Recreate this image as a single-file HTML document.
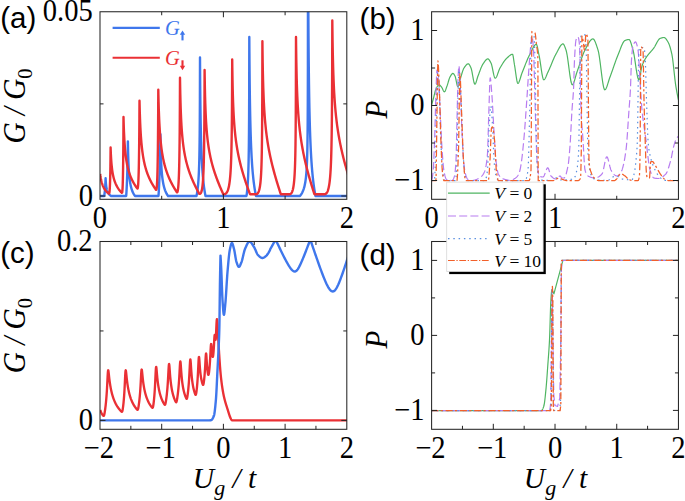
<!DOCTYPE html>
<html><head><meta charset="utf-8"><title>Figure</title>
<style>
html,body{margin:0;padding:0;background:#fff;}
body{width:685px;height:501px;overflow:hidden;font-family:"Liberation Serif",serif;}
svg{display:block}
text{fill:#000}
</style></head><body>
<svg width="685" height="501" viewBox="0 0 685 501">
<rect width="685" height="501" fill="#fff"/>
<defs>
<clipPath id="ca"><rect x="100.0" y="11.75" width="246.80" height="187.55"/></clipPath>
<clipPath id="cb"><rect x="431.6" y="11.75" width="246.85" height="187.55"/></clipPath>
<clipPath id="cc"><rect x="100.0" y="241.5" width="246.80" height="187.80"/></clipPath>
<clipPath id="cd"><rect x="431.6" y="241.5" width="246.85" height="187.80"/></clipPath>
</defs>
<path d="M100.20 195.95L104.20 195.95L104.20 195.95L104.30 195.35L104.40 194.71L104.50 194.01L104.60 193.25L104.70 192.42L104.80 191.51L104.90 190.50L105.00 189.38L105.10 188.12L105.20 186.69L105.30 185.06L105.40 183.16L105.50 180.91L105.60 178.20L105.70 180.27L105.80 181.90L105.90 183.24L106.00 184.35L106.10 185.30L106.20 186.12L106.30 186.84L106.40 187.48L106.50 188.05L106.60 188.56L106.70 189.03L106.80 189.46L106.90 189.85L107.00 190.20L107.10 190.54L107.20 190.85L107.30 191.13L107.40 191.40L107.50 191.66L107.60 191.89L107.70 192.12L107.80 192.33L107.90 192.53L108.00 192.72L108.10 192.90L108.20 193.07L108.30 193.24L108.40 193.39L108.50 193.54L108.60 193.69L108.70 193.82L108.80 193.96L108.90 194.08L109.00 194.20L109.10 194.32L109.20 194.43L109.30 194.54L109.40 194.65L109.50 194.75L109.60 194.85L109.70 194.94L109.80 195.03L109.90 195.12L110.00 195.21L110.10 195.29L110.20 195.38L110.30 195.45L110.40 195.53L110.50 195.61L110.60 195.68L110.70 195.75L110.80 195.82L110.90 195.88L111.00 195.95L111.00 195.95L126.20 195.95L126.20 195.95L126.30 194.45L126.40 192.85L126.50 191.15L126.60 189.33L126.70 187.37L126.80 185.27L126.90 183.00L127.00 180.54L127.10 177.86L127.20 174.93L127.30 171.69L127.40 168.10L127.50 164.09L127.60 159.57L127.70 154.42L127.80 148.47L127.90 141.50L127.90 141.50L128.00 147.33L128.10 151.97L128.20 155.79L128.30 159.00L128.40 161.75L128.50 164.14L128.60 166.24L128.70 168.11L128.80 169.78L128.90 171.28L129.00 172.66L129.10 173.91L129.20 175.06L129.30 176.12L129.40 177.10L129.50 178.02L129.60 178.87L129.70 179.67L129.80 180.42L129.90 181.13L130.00 181.79L130.10 182.42L130.20 183.02L130.30 183.58L130.40 184.12L130.50 184.63L130.60 185.12L130.70 185.59L130.80 186.03L130.90 186.46L131.00 186.87L131.10 187.27L131.20 187.64L131.30 188.01L131.40 188.36L131.50 188.69L131.60 189.02L131.70 189.33L131.80 189.64L131.90 189.93L132.00 190.21L132.10 190.49L132.20 190.76L132.30 191.02L132.40 191.27L132.50 191.51L132.60 191.75L132.70 191.98L132.80 192.20L132.90 192.42L133.00 192.63L133.10 192.83L133.20 193.04L133.30 193.23L133.40 193.42L133.50 193.61L133.60 193.79L133.70 193.97L133.80 194.14L133.90 194.31L134.00 194.48L134.10 194.64L134.20 194.80L134.30 194.95L134.40 195.10L134.50 195.25L134.60 195.40L134.70 195.54L134.80 195.68L134.90 195.82L135.00 195.95L158.50 195.95L158.50 195.95L158.60 194.43L158.70 192.83L158.80 191.13L158.90 189.34L159.00 187.42L159.10 185.38L159.20 183.20L159.30 180.87L159.40 178.35L159.50 175.64L159.60 172.69L159.70 169.48L159.80 165.97L159.90 162.10L160.00 157.80L160.10 153.00L160.20 147.59L160.30 141.42L160.40 134.30L160.40 134.30L160.50 140.51L160.60 145.53L160.70 149.69L160.80 153.22L160.90 156.26L161.00 158.91L161.10 161.25L161.20 163.34L161.30 165.22L161.40 166.92L161.50 168.47L161.60 169.88L161.70 171.19L161.80 172.39L161.90 173.51L162.00 174.56L162.10 175.53L162.20 176.44L162.30 177.30L162.40 178.11L162.50 178.87L162.60 179.59L162.70 180.27L162.80 180.92L162.90 181.54L163.00 182.13L163.10 182.69L163.20 183.23L163.30 183.74L163.40 184.23L163.50 184.70L163.60 185.16L163.70 185.59L163.80 186.01L163.90 186.42L164.00 186.81L164.10 187.18L164.20 187.55L164.30 187.90L164.40 188.24L164.50 188.56L164.60 188.88L164.70 189.19L164.80 189.49L164.90 189.78L165.00 190.06L165.10 190.34L165.20 190.60L165.30 190.86L165.40 191.11L165.50 191.36L165.60 191.60L165.70 191.83L165.80 192.06L165.90 192.28L166.00 192.50L166.10 192.71L166.20 192.91L166.30 193.11L166.40 193.31L166.50 193.50L166.60 193.69L166.70 193.87L166.80 194.05L166.90 194.23L167.00 194.40L167.10 194.57L167.20 194.74L167.30 194.90L167.40 195.06L167.50 195.21L167.60 195.37L167.70 195.52L167.80 195.66L167.90 195.81L168.00 195.95L196.50 195.95L196.50 195.95L196.60 195.48L196.70 194.98L196.80 194.47L196.90 193.93L197.00 193.36L197.10 192.77L197.20 192.14L197.30 191.49L197.40 190.80L197.50 190.07L197.60 189.29L197.70 188.47L197.80 187.60L197.90 186.67L198.00 185.68L198.10 184.61L198.20 183.46L198.30 182.22L198.40 180.87L198.50 179.41L198.60 177.80L198.70 176.03L198.80 174.06L198.90 171.86L199.00 169.37L199.10 166.54L199.20 163.26L199.30 159.42L199.40 154.81L199.50 149.17L199.60 142.03L199.70 132.58L199.80 119.21L199.90 98.19L200.00 57.50L200.10 73.38L200.20 85.97L200.30 96.27L200.40 104.90L200.50 112.26L200.60 118.64L200.70 124.23L200.80 129.20L200.90 133.64L201.00 137.64L201.10 141.27L201.20 144.59L201.30 147.64L201.40 150.45L201.50 153.04L201.60 155.46L201.70 157.71L201.80 159.82L201.90 161.80L202.00 163.66L202.10 165.41L202.20 167.07L202.30 168.64L202.40 170.13L202.50 171.54L202.60 172.89L202.70 174.17L202.80 175.40L202.90 176.57L203.00 177.69L203.10 178.77L203.20 179.80L203.30 180.80L203.40 181.75L203.50 182.67L203.60 183.55L203.70 184.41L203.80 185.23L203.90 186.03L204.00 186.80L204.10 187.54L204.20 188.27L204.30 188.96L204.40 189.64L204.50 190.30L204.60 190.94L204.70 191.56L204.80 192.16L204.90 192.75L205.00 193.32L205.10 193.87L205.20 194.41L205.30 194.94L205.40 195.45L205.50 195.95L205.50 195.95L246.50 195.95L246.50 195.95L246.60 195.27L246.70 194.55L246.80 193.78L246.90 192.98L247.00 192.12L247.10 191.21L247.20 190.24L247.30 189.19L247.40 188.08L247.50 186.87L247.60 185.57L247.70 184.15L247.80 182.61L247.90 180.91L248.00 179.04L248.10 176.96L248.20 174.62L248.30 171.98L248.40 168.95L248.50 165.44L248.60 161.29L248.70 156.31L248.80 150.14L248.90 142.25L249.00 131.63L249.10 116.26L249.20 91.01L249.30 37.00L249.30 37.00L249.40 52.29L249.50 64.86L249.60 75.44L249.70 84.49L249.80 92.36L249.90 99.28L250.00 105.42L250.10 110.93L250.20 115.90L250.30 120.42L250.40 124.56L250.50 128.35L250.60 131.85L250.70 135.10L250.80 138.12L250.90 140.93L251.00 143.57L251.10 146.04L251.20 148.37L251.30 150.57L251.40 152.65L251.50 154.61L251.60 156.48L251.70 158.25L251.80 159.94L251.90 161.56L252.00 163.10L252.10 164.57L252.20 165.98L252.30 167.33L252.40 168.63L252.50 169.88L252.60 171.08L252.70 172.23L252.80 173.35L252.90 174.42L253.00 175.46L253.10 176.46L253.20 177.43L253.30 178.37L253.40 179.28L253.50 180.16L253.60 181.01L253.70 181.84L253.80 182.64L253.90 183.42L254.00 184.18L254.10 184.92L254.20 185.64L254.30 186.34L254.40 187.02L254.50 187.68L254.60 188.33L254.70 188.96L254.80 189.57L254.90 190.17L255.00 190.76L255.10 191.33L255.20 191.89L255.30 192.44L255.40 192.97L255.50 193.50L255.60 194.01L255.70 194.51L255.80 195.00L255.90 195.48L256.00 195.95L300.00 195.95L300.00 195.95L300.10 195.83L300.20 195.71L300.30 195.58L300.40 195.45L300.50 195.32L300.60 195.19L300.70 195.05L300.80 194.91L300.90 194.77L301.00 194.63L301.10 194.48L301.20 194.33L301.30 194.17L301.40 194.01L301.50 193.85L301.60 193.69L301.70 193.52L301.80 193.34L301.90 193.17L302.00 192.98L302.10 192.80L302.20 192.61L302.30 192.41L302.40 192.21L302.50 192.00L302.60 191.79L302.70 191.57L302.80 191.35L302.90 191.11L303.00 190.88L303.10 190.63L303.20 190.38L303.30 190.12L303.40 189.85L303.50 189.57L303.60 189.28L303.70 188.98L303.80 188.67L303.90 188.36L304.00 188.02L304.10 187.68L304.20 187.32L304.30 186.95L304.40 186.57L304.50 186.16L304.60 185.74L304.70 185.30L304.80 184.84L304.90 184.36L305.00 183.86L305.10 183.33L305.20 182.77L305.30 182.18L305.40 181.56L305.50 180.90L305.60 180.20L305.70 179.46L305.80 178.67L305.90 177.82L306.00 176.91L306.10 175.93L306.20 174.88L306.30 173.73L306.40 172.48L306.50 171.10L306.60 169.59L306.70 167.91L306.80 166.03L306.90 163.90L307.00 161.47L307.10 158.66L307.20 155.36L307.30 151.40L307.40 146.54L307.50 140.36L307.60 132.15L307.70 120.46L307.80 101.86L307.90 64.94L308.00 -90.00L308.10 -49.23L308.20 -19.62L308.30 3.14L308.40 21.34L308.50 36.32L308.60 48.93L308.70 59.74L308.80 69.13L308.90 77.40L309.00 84.75L309.10 91.34L309.20 97.29L309.30 102.70L309.40 107.65L309.50 112.19L309.60 116.39L309.70 120.27L309.80 123.89L309.90 127.27L310.00 130.43L310.10 133.39L310.20 136.18L310.30 138.82L310.40 141.31L310.50 143.67L310.60 145.91L310.70 148.04L310.80 150.06L310.90 152.00L311.00 153.84L311.10 155.61L311.20 157.30L311.30 158.93L311.40 160.48L311.50 161.98L311.60 163.42L311.70 164.81L311.80 166.15L311.90 167.44L312.00 168.68L312.10 169.88L312.20 171.05L312.30 172.17L312.40 173.26L312.50 174.32L312.60 175.35L312.70 176.34L312.80 177.31L312.90 178.24L313.00 179.15L313.10 180.04L313.20 180.90L313.30 181.74L313.40 182.56L313.50 183.36L313.60 184.13L313.70 184.89L313.80 185.63L313.90 186.35L314.00 187.06L314.10 187.74L314.20 188.42L314.30 189.07L314.40 189.71L314.50 190.34L314.60 190.96L314.70 191.56L314.80 192.15L314.90 192.72L315.00 193.29L315.10 193.84L315.20 194.38L315.30 194.92L315.40 195.44L315.50 195.95L347.40 195.95" fill="none" stroke="#3f77ec" stroke-width="2.4" stroke-linejoin="round" stroke-linecap="butt" clip-path="url(#ca)"/>
<path d="M100.20 174.00L100.45 175.90L100.70 177.52L100.95 178.93L101.20 180.16L101.45 181.26L101.70 182.24L101.95 183.13L102.20 183.94L102.45 184.67L102.70 185.35L102.95 185.97L103.20 186.55L103.45 187.08L103.70 187.58L103.95 188.05L104.20 188.49L104.45 188.91L104.70 189.30L104.95 189.66L105.20 190.01L105.45 190.34L105.70 190.66L105.95 190.96L106.20 191.25L106.45 191.52L106.70 191.78L106.95 192.03L107.20 192.27L107.45 192.50L107.70 192.72L107.95 192.93L108.20 193.14L108.45 193.34L108.70 193.53L108.80 193.60L109.00 193.60L109.00 193.60L109.10 193.54L109.20 193.35L109.30 193.01L109.40 192.51L109.50 191.80L109.60 190.87L109.70 189.67L109.80 188.15L109.90 186.24L110.00 183.85L110.10 180.87L110.20 177.14L110.30 172.40L110.40 166.32L110.50 158.34L110.60 147.50L110.70 150.23L110.90 154.74L111.10 158.33L111.30 161.28L111.50 163.77L111.70 165.90L111.90 167.75L112.10 169.39L112.30 170.85L112.50 172.16L112.70 173.36L112.90 174.44L113.10 175.44L113.30 176.36L113.50 177.22L113.70 178.01L113.90 178.76L114.10 179.46L114.30 180.12L114.50 180.74L114.70 181.33L114.90 181.89L115.10 182.42L115.30 182.93L115.50 183.41L115.70 183.87L115.90 184.32L116.10 184.74L116.30 185.15L116.50 185.55L116.70 185.93L116.90 186.30L117.10 186.66L117.30 187.00L117.50 187.33L117.70 187.66L117.90 187.97L118.10 188.28L118.30 188.58L118.50 188.86L118.70 189.15L118.90 189.42L119.10 189.69L119.30 189.95L119.50 190.21L119.70 190.46L119.90 190.70L120.10 190.94L120.30 191.18L120.50 191.41L120.70 191.63L120.90 191.85L121.10 192.07L121.30 192.28L121.50 192.49L121.70 192.70L121.80 192.80L122.00 192.80L122.00 192.80L122.10 192.69L122.20 192.33L122.30 191.69L122.40 190.73L122.50 189.38L122.60 187.58L122.70 185.24L122.80 182.25L122.90 178.45L123.00 173.63L123.10 167.51L123.20 159.66L123.30 149.44L123.40 135.82L123.50 117.00L123.60 120.80L123.80 127.17L124.00 132.32L124.20 136.61L124.40 140.26L124.60 143.41L124.80 146.17L125.00 148.62L125.20 150.82L125.40 152.80L125.60 154.60L125.80 156.25L126.00 157.77L126.20 159.18L126.40 160.49L126.60 161.71L126.80 162.86L127.00 163.93L127.20 164.95L127.40 165.91L127.60 166.81L127.80 167.68L128.00 168.50L128.20 169.29L128.40 170.04L128.60 170.76L128.80 171.45L129.00 172.11L129.20 172.75L129.40 173.37L129.60 173.96L129.80 174.54L130.00 175.09L130.20 175.63L130.40 176.15L130.60 176.66L130.80 177.15L131.00 177.63L131.20 178.09L131.40 178.55L131.60 178.99L131.80 179.42L132.00 179.84L132.20 180.25L132.40 180.65L132.60 181.05L132.80 181.43L133.00 181.81L133.20 182.18L133.40 182.54L133.60 182.89L133.80 183.24L134.00 183.58L134.20 183.92L134.40 184.25L134.60 184.57L134.80 184.89L135.00 185.20L135.20 185.51L135.40 185.82L135.60 186.12L135.80 186.41L136.00 186.70L136.20 186.99L136.40 187.27L136.60 187.55L136.80 187.83L137.00 188.10L137.20 188.37L137.30 188.50L137.50 188.50L137.50 188.50L137.60 188.43L137.70 188.20L137.80 187.80L137.90 187.22L138.00 186.42L138.10 185.38L138.20 184.07L138.30 182.46L138.40 180.50L138.50 178.13L138.60 175.29L138.70 171.89L138.80 167.84L138.90 162.99L139.00 157.18L139.10 150.16L139.20 141.60L139.30 131.05L139.40 117.81L139.50 100.80L139.60 105.14L139.80 112.47L140.00 118.45L140.20 123.45L140.40 127.72L140.60 131.43L140.80 134.70L141.00 137.60L141.20 140.20L141.40 142.56L141.60 144.71L141.80 146.68L142.00 148.50L142.20 150.18L142.40 151.75L142.60 153.21L142.80 154.59L143.00 155.88L143.20 157.10L143.40 158.26L143.60 159.35L143.80 160.40L144.00 161.39L144.20 162.34L144.40 163.25L144.60 164.12L144.80 164.95L145.00 165.76L145.20 166.53L145.40 167.28L145.60 168.00L145.80 168.69L146.00 169.37L146.20 170.02L146.40 170.65L146.60 171.27L146.80 171.87L147.00 172.45L147.20 173.01L147.40 173.57L147.60 174.10L147.80 174.63L148.00 175.14L148.20 175.64L148.40 176.13L148.60 176.61L148.80 177.08L149.00 177.54L149.20 177.99L149.40 178.43L149.60 178.86L149.80 179.29L150.00 179.70L150.20 180.11L150.40 180.52L150.60 180.91L150.80 181.30L151.00 181.69L151.20 182.07L151.40 182.44L151.60 182.80L151.80 183.17L152.00 183.52L152.20 183.87L152.40 184.22L152.60 184.56L152.80 184.90L153.00 185.23L153.20 185.56L153.40 185.89L153.60 186.21L153.80 186.52L154.00 186.84L154.20 187.15L154.40 187.45L154.60 187.76L154.80 188.06L155.00 188.36L155.20 188.65L155.40 188.94L155.60 189.23L155.80 189.52L156.00 189.80L156.00 189.80L156.20 189.80L156.20 189.80L156.30 189.73L156.40 189.52L156.50 189.15L156.60 188.61L156.70 187.86L156.80 186.90L156.90 185.68L157.00 184.19L157.10 182.37L157.20 180.17L157.30 177.54L157.40 174.41L157.50 170.67L157.60 166.22L157.70 160.88L157.80 154.45L157.90 146.65L158.00 137.06L158.10 125.10L158.20 109.85L158.30 89.80L158.30 89.80L158.40 94.66L158.60 102.83L158.80 109.47L159.00 115.01L159.20 119.73L159.40 123.82L159.60 127.42L159.80 130.61L160.00 133.48L160.20 136.07L160.40 138.43L160.60 140.60L160.80 142.60L161.00 144.45L161.20 146.18L161.40 147.79L161.60 149.31L161.80 150.73L162.00 152.08L162.20 153.36L162.40 154.57L162.60 155.72L162.80 156.82L163.00 157.87L163.20 158.87L163.40 159.84L163.60 160.77L163.80 161.66L164.00 162.52L164.20 163.35L164.40 164.15L164.60 164.93L164.80 165.68L165.00 166.41L165.20 167.12L165.40 167.81L165.60 168.48L165.80 169.13L166.00 169.76L166.20 170.38L166.40 170.99L166.60 171.58L166.80 172.15L167.00 172.72L167.20 173.27L167.40 173.81L167.60 174.34L167.80 174.86L168.00 175.37L168.20 175.87L168.40 176.36L168.60 176.85L168.80 177.32L169.00 177.79L169.20 178.25L169.40 178.70L169.60 179.14L169.80 179.58L170.00 180.01L170.20 180.44L170.40 180.86L170.60 181.27L170.80 181.68L171.00 182.08L171.20 182.48L171.40 182.87L171.60 183.26L171.80 183.65L172.00 184.03L172.20 184.40L172.40 184.77L172.60 185.14L172.80 185.50L173.00 185.86L173.20 186.22L173.40 186.57L173.60 186.92L173.80 187.26L174.00 187.60L174.20 187.94L174.40 188.28L174.60 188.61L174.80 188.94L175.00 189.27L175.20 189.59L175.40 189.91L175.60 190.23L175.80 190.55L176.00 190.86L176.20 191.17L176.40 191.48L176.60 191.79L176.80 192.10L177.00 192.40L177.00 192.40L177.00 192.40L177.10 192.38L177.20 192.30L177.30 192.17L177.40 191.98L177.50 191.72L177.60 191.40L177.70 190.99L177.80 190.51L177.90 189.92L178.00 189.24L178.10 188.44L178.20 187.51L178.30 186.44L178.40 185.21L178.50 183.79L178.60 182.17L178.70 180.31L178.80 178.17L178.90 175.71L179.00 172.87L179.10 169.57L179.20 165.72L179.30 161.19L179.40 155.80L179.50 149.33L179.60 141.41L179.70 131.52L179.80 118.82L179.90 101.84L180.00 77.80L180.10 84.13L180.30 94.31L180.50 102.21L180.70 108.61L180.90 113.92L181.10 118.44L181.30 122.36L181.50 125.79L181.70 128.85L181.90 131.60L182.10 134.09L182.30 136.36L182.50 138.45L182.70 140.38L182.90 142.17L183.10 143.85L183.30 145.42L183.50 146.89L183.70 148.29L183.90 149.61L184.10 150.87L184.30 152.07L184.50 153.21L184.70 154.30L184.90 155.35L185.10 156.36L185.30 157.33L185.50 158.27L185.70 159.17L185.90 160.05L186.10 160.89L186.30 161.71L186.50 162.51L186.70 163.29L186.90 164.04L187.10 164.78L187.30 165.49L187.50 166.19L187.70 166.87L187.90 167.54L188.10 168.20L188.30 168.84L188.50 169.46L188.70 170.08L188.90 170.68L189.10 171.27L189.30 171.86L189.50 172.43L189.70 172.99L189.90 173.54L190.10 174.09L190.30 174.63L190.50 175.16L190.70 175.68L190.90 176.19L191.10 176.70L191.30 177.20L191.50 177.69L191.70 178.18L191.90 178.66L192.10 179.14L192.30 179.61L192.50 180.08L192.70 180.54L192.90 181.00L193.10 181.45L193.30 181.90L193.50 182.34L193.70 182.78L193.90 183.21L194.10 183.64L194.30 184.07L194.50 184.49L194.70 184.91L194.90 185.33L195.10 185.74L195.30 186.15L195.50 186.56L195.70 186.96L195.90 187.36L196.10 187.76L196.30 188.16L196.50 188.55L196.70 188.94L196.90 189.33L197.10 189.71L197.30 190.09L197.50 190.47L197.70 190.85L197.90 191.23L198.10 191.60L198.30 191.97L198.50 192.34L198.70 192.71L198.90 193.07L199.10 193.44L199.30 193.80L199.30 193.80L199.80 193.80L199.80 193.80L199.90 193.79L200.00 193.78L200.10 193.74L200.20 193.70L200.30 193.64L200.40 193.56L200.50 193.47L200.60 193.37L200.70 193.24L200.80 193.09L200.90 192.93L201.00 192.74L201.10 192.53L201.20 192.29L201.30 192.03L201.40 191.74L201.50 191.42L201.60 191.06L201.70 190.67L201.80 190.24L201.90 189.77L202.00 189.26L202.10 188.69L202.20 188.07L202.30 187.39L202.40 186.65L202.50 185.83L202.60 184.94L202.70 183.95L202.80 182.86L202.90 181.66L203.00 180.34L203.10 178.86L203.20 177.22L203.30 175.38L203.40 173.31L203.50 170.97L203.60 168.31L203.70 165.25L203.80 161.71L203.90 157.55L204.00 152.61L204.10 146.61L204.20 139.17L204.30 129.64L204.40 116.90L204.50 98.72L204.60 69.90L204.70 77.21L204.90 88.61L205.10 97.23L205.30 104.07L205.50 109.68L205.70 114.41L205.90 118.47L206.10 122.02L206.30 125.17L206.50 127.99L206.70 130.54L206.90 132.87L207.10 135.01L207.30 136.99L207.50 138.83L207.70 140.55L207.90 142.16L208.10 143.69L208.30 145.13L208.50 146.49L208.70 147.80L208.90 149.04L209.10 150.23L209.30 151.37L209.50 152.47L209.70 153.52L209.90 154.54L210.10 155.53L210.30 156.48L210.50 157.41L210.70 158.31L210.90 159.18L211.10 160.03L211.30 160.86L211.50 161.67L211.70 162.46L211.90 163.23L212.10 163.99L212.30 164.73L212.50 165.46L212.70 166.17L212.90 166.87L213.10 167.55L213.30 168.23L213.50 168.89L213.70 169.54L213.90 170.19L214.10 170.82L214.30 171.45L214.50 172.06L214.70 172.67L214.90 173.27L215.10 173.86L215.30 174.45L215.50 175.02L215.70 175.60L215.90 176.16L216.10 176.72L216.30 177.27L216.50 177.82L216.70 178.36L216.90 178.90L217.10 179.43L217.30 179.96L217.50 180.48L217.70 181.00L217.90 181.52L218.10 182.03L218.30 182.53L218.50 183.03L218.70 183.53L218.90 184.03L219.10 184.52L219.30 185.01L219.50 185.49L219.70 185.97L219.90 186.45L220.10 186.93L220.30 187.40L220.50 187.87L220.70 188.34L220.90 188.80L221.10 189.26L221.30 189.72L221.50 190.18L221.70 190.64L221.90 191.09L222.10 191.54L222.30 191.99L222.50 192.43L222.70 192.88L222.90 193.32L223.10 193.76L223.30 194.20L223.30 194.20L224.00 194.20L224.00 194.20L224.10 194.20L224.20 194.19L224.30 194.18L224.40 194.17L224.50 194.16L224.60 194.14L224.70 194.11L224.80 194.09L224.90 194.06L225.00 194.02L225.10 193.98L225.20 193.94L225.30 193.89L225.40 193.83L225.50 193.77L225.60 193.71L225.70 193.64L225.80 193.56L225.90 193.48L226.00 193.39L226.10 193.30L226.20 193.20L226.30 193.09L226.40 192.97L226.50 192.85L226.60 192.72L226.70 192.58L226.80 192.43L226.90 192.28L227.00 192.11L227.10 191.94L227.20 191.75L227.30 191.56L227.40 191.35L227.50 191.13L227.60 190.90L227.70 190.66L227.80 190.40L227.90 190.13L228.00 189.84L228.10 189.54L228.20 189.22L228.30 188.88L228.40 188.52L228.50 188.15L228.60 187.75L228.70 187.32L228.80 186.88L228.90 186.40L229.00 185.90L229.10 185.37L229.20 184.80L229.30 184.20L229.40 183.56L229.50 182.88L229.60 182.15L229.70 181.38L229.80 180.55L229.90 179.66L230.00 178.71L230.10 177.68L230.20 176.58L230.30 175.39L230.40 174.09L230.50 172.69L230.60 171.16L230.70 169.48L230.80 167.63L230.90 165.60L231.00 163.33L231.10 160.80L231.20 157.94L231.30 154.70L231.40 150.98L231.50 146.65L231.60 141.55L231.70 135.41L231.80 127.86L231.90 118.28L232.00 105.57L232.10 87.61L232.20 59.50L232.30 67.48L232.50 79.83L232.70 89.09L232.90 96.39L233.10 102.37L233.30 107.39L233.50 111.71L233.70 115.49L233.90 118.84L234.10 121.84L234.30 124.56L234.50 127.05L234.70 129.34L234.90 131.46L235.10 133.44L235.30 135.29L235.50 137.03L235.70 138.68L235.90 140.24L236.10 141.73L236.30 143.15L236.50 144.50L236.70 145.80L236.90 147.06L237.10 148.26L237.30 149.43L237.50 150.55L237.70 151.65L237.90 152.71L238.10 153.74L238.30 154.74L238.50 155.71L238.70 156.67L238.90 157.60L239.10 158.51L239.30 159.40L239.50 160.27L239.70 161.13L239.90 161.97L240.10 162.79L240.30 163.60L240.50 164.40L240.70 165.18L240.90 165.95L241.10 166.71L241.30 167.46L241.50 168.20L241.70 168.93L241.90 169.65L242.10 170.36L242.30 171.07L242.50 171.76L242.70 172.45L242.90 173.13L243.10 173.80L243.30 174.47L243.50 175.13L243.70 175.78L243.90 176.43L244.10 177.07L244.30 177.71L244.50 178.34L244.70 178.96L244.90 179.59L245.10 180.20L245.30 180.81L245.50 181.42L245.70 182.02L245.90 182.62L246.10 183.22L246.30 183.81L246.50 184.40L246.70 184.98L246.90 185.56L247.10 186.14L247.30 186.72L247.50 187.29L247.70 187.86L247.90 188.42L248.10 188.98L248.30 189.54L248.50 190.10L248.70 190.65L248.90 191.21L249.10 191.76L249.30 192.30L249.50 192.85L249.70 193.39L249.90 193.93L250.00 194.20L256.00 194.20L256.00 194.20L256.10 194.20L256.20 194.19L256.30 194.18L256.40 194.16L256.50 194.14L256.60 194.11L256.70 194.07L256.80 194.03L256.90 193.98L257.00 193.93L257.10 193.86L257.20 193.79L257.30 193.72L257.40 193.63L257.50 193.54L257.60 193.43L257.70 193.32L257.80 193.19L257.90 193.06L258.00 192.91L258.10 192.76L258.20 192.59L258.30 192.40L258.40 192.21L258.50 191.99L258.60 191.76L258.70 191.52L258.80 191.26L258.90 190.97L259.00 190.67L259.10 190.34L259.20 189.99L259.30 189.62L259.40 189.22L259.50 188.78L259.60 188.32L259.70 187.82L259.80 187.28L259.90 186.70L260.00 186.07L260.10 185.39L260.20 184.65L260.30 183.85L260.40 182.99L260.50 182.04L260.60 181.00L260.70 179.87L260.80 178.62L260.90 177.23L261.00 175.69L261.10 173.98L261.20 172.05L261.30 169.86L261.40 167.36L261.50 164.47L261.60 161.10L261.70 157.10L261.80 152.26L261.90 146.25L262.00 138.56L262.10 128.23L262.20 113.40L262.30 89.54L262.40 41.30L262.50 49.98L262.70 63.52L262.90 73.73L263.10 81.83L263.30 88.49L263.50 94.10L263.70 98.93L263.90 103.17L264.10 106.93L264.30 110.30L264.50 113.37L264.70 116.17L264.90 118.75L265.10 121.15L265.30 123.38L265.50 125.47L265.70 127.44L265.90 129.31L266.10 131.07L266.30 132.75L266.50 134.36L266.70 135.90L266.90 137.37L267.10 138.79L267.30 140.16L267.50 141.48L267.70 142.76L267.90 144.00L268.10 145.20L268.30 146.37L268.50 147.50L268.70 148.61L268.90 149.69L269.10 150.75L269.30 151.78L269.50 152.80L269.70 153.79L269.90 154.76L270.10 155.71L270.30 156.65L270.50 157.57L270.70 158.47L270.90 159.36L271.10 160.24L271.30 161.11L271.50 161.96L271.70 162.80L271.90 163.63L272.10 164.45L272.30 165.26L272.50 166.05L272.70 166.85L272.90 167.63L273.10 168.40L273.30 169.16L273.50 169.92L273.70 170.67L273.90 171.42L274.10 172.15L274.30 172.88L274.50 173.61L274.70 174.32L274.90 175.04L275.10 175.74L275.30 176.44L275.50 177.14L275.70 177.83L275.90 178.52L276.10 179.20L276.30 179.88L276.50 180.55L276.70 181.22L276.90 181.88L277.10 182.54L277.30 183.20L277.50 183.86L277.70 184.51L277.90 185.15L278.10 185.80L278.30 186.44L278.50 187.07L278.70 187.71L278.90 188.34L279.10 188.97L279.30 189.59L279.50 190.21L279.70 190.83L279.90 191.45L280.10 192.07L280.30 192.68L280.50 193.29L280.70 193.90L280.80 194.20L289.50 194.20L289.50 194.20L289.60 194.20L289.70 194.19L289.80 194.18L289.90 194.16L290.00 194.14L290.10 194.11L290.20 194.07L290.30 194.03L290.40 193.98L290.50 193.93L290.60 193.87L290.70 193.80L290.80 193.72L290.90 193.63L291.00 193.54L291.10 193.44L291.20 193.32L291.30 193.20L291.40 193.07L291.50 192.93L291.60 192.77L291.70 192.60L291.80 192.42L291.90 192.23L292.00 192.02L292.10 191.79L292.20 191.55L292.30 191.29L292.40 191.01L292.50 190.72L292.60 190.40L292.70 190.06L292.80 189.69L292.90 189.30L293.00 188.87L293.10 188.42L293.20 187.93L293.30 187.41L293.40 186.85L293.50 186.24L293.60 185.59L293.70 184.88L293.80 184.11L293.90 183.28L294.00 182.38L294.10 181.40L294.20 180.32L294.30 179.14L294.40 177.84L294.50 176.40L294.60 174.81L294.70 173.03L294.80 171.03L294.90 168.76L295.00 166.18L295.10 163.19L295.20 159.70L295.30 155.57L295.40 150.56L295.50 144.36L295.60 136.43L295.70 125.80L295.80 110.55L295.90 86.09L296.00 37.00L296.10 45.93L296.30 59.84L296.50 70.34L296.70 78.67L296.90 85.51L297.10 91.28L297.30 96.25L297.50 100.61L297.70 104.47L297.90 107.94L298.10 111.09L298.30 113.98L298.50 116.63L298.70 119.09L298.90 121.39L299.10 123.54L299.30 125.57L299.50 127.48L299.70 129.30L299.90 131.03L300.10 132.68L300.30 134.26L300.50 135.77L300.70 137.23L300.90 138.64L301.10 140.00L301.30 141.31L301.50 142.58L301.70 143.82L301.90 145.02L302.10 146.19L302.30 147.33L302.50 148.44L302.70 149.53L302.90 150.59L303.10 151.63L303.30 152.65L303.50 153.65L303.70 154.63L303.90 155.59L304.10 156.54L304.30 157.47L304.50 158.38L304.70 159.29L304.90 160.17L305.10 161.05L305.30 161.92L305.50 162.77L305.70 163.61L305.90 164.44L306.10 165.26L306.30 166.08L306.50 166.88L306.70 167.67L306.90 168.46L307.10 169.24L307.30 170.01L307.50 170.78L307.70 171.53L307.90 172.28L308.10 173.03L308.30 173.77L308.50 174.50L308.70 175.22L308.90 175.95L309.10 176.66L309.30 177.37L309.50 178.08L309.70 178.78L309.90 179.47L310.10 180.17L310.30 180.85L310.50 181.54L310.70 182.22L310.90 182.89L311.10 183.56L311.30 184.23L311.50 184.90L311.70 185.56L311.90 186.22L312.10 186.87L312.30 187.52L312.50 188.17L312.70 188.82L312.90 189.46L313.10 190.10L313.30 190.74L313.50 191.37L313.70 192.01L313.90 192.64L314.10 193.26L314.30 193.89L314.40 194.20L324.50 194.20L324.50 194.20L324.60 194.20L324.70 194.19L324.80 194.18L324.90 194.17L325.00 194.15L325.10 194.12L325.20 194.09L325.30 194.06L325.40 194.01L325.50 193.97L325.60 193.92L325.70 193.86L325.80 193.79L325.90 193.72L326.00 193.65L326.10 193.56L326.20 193.47L326.30 193.37L326.40 193.26L326.50 193.15L326.60 193.02L326.70 192.89L326.80 192.75L326.90 192.60L327.00 192.44L327.10 192.26L327.20 192.08L327.30 191.89L327.40 191.68L327.50 191.46L327.60 191.23L327.70 190.98L327.80 190.71L327.90 190.44L328.00 190.14L328.10 189.83L328.20 189.50L328.30 189.15L328.40 188.78L328.50 188.38L328.60 187.97L328.70 187.52L328.80 187.06L328.90 186.56L329.00 186.03L329.10 185.47L329.20 184.87L329.30 184.24L329.40 183.56L329.50 182.84L329.60 182.08L329.70 181.26L329.80 180.38L329.90 179.44L330.00 178.43L330.10 177.34L330.20 176.17L330.30 174.90L330.40 173.53L330.50 172.04L330.60 170.42L330.70 168.65L330.80 166.70L330.90 164.55L331.00 162.16L331.10 159.50L331.20 156.52L331.30 153.14L331.40 149.27L331.50 144.81L331.60 139.58L331.70 133.35L331.80 125.77L331.90 116.31L332.00 104.04L332.10 87.29L332.20 62.51L332.30 20.40L332.30 20.40L332.40 29.05L332.60 42.85L332.80 53.50L333.00 62.09L333.20 69.22L333.40 75.28L333.60 80.53L333.80 85.15L334.00 89.27L334.20 92.97L334.40 96.34L334.60 99.43L334.80 102.27L335.00 104.91L335.20 107.37L335.40 109.67L335.60 111.84L335.80 113.89L336.00 115.83L336.20 117.68L336.40 119.44L336.60 121.13L336.80 122.74L337.00 124.30L337.20 125.79L337.40 127.23L337.60 128.62L337.80 129.97L338.00 131.28L338.20 132.55L338.40 133.78L338.60 134.98L338.80 136.15L339.00 137.30L339.20 138.41L339.40 139.50L339.60 140.57L339.80 141.61L340.00 142.63L340.20 143.64L340.40 144.63L340.60 145.59L340.80 146.55L341.00 147.48L341.20 148.40L341.40 149.31L341.60 150.20L341.80 151.09L342.00 151.96L342.20 152.81L342.40 153.66L342.60 154.50L342.80 155.32L343.00 156.14L343.20 156.95L343.40 157.75L343.60 158.54L343.80 159.32L344.00 160.09L344.20 160.86L344.40 161.62L344.60 162.37L344.80 163.12L345.00 163.86L345.20 164.59L345.40 165.32L345.60 166.04L345.80 166.76L346.00 167.47L346.20 168.17L346.40 168.87L346.60 169.57L346.80 170.26L347.00 170.95L347.20 171.63L347.40 172.31L347.60 172.98L347.80 173.65L348.00 174.32L348.20 174.98L348.40 175.64L348.60 176.30L348.80 176.95L349.00 177.60L349.20 178.24L349.40 178.89L349.60 179.53L349.80 180.16L350.00 180.80L350.20 181.43L350.40 182.06L350.60 182.68L350.80 183.30L351.00 183.92L351.20 184.54L351.40 185.16L351.60 185.77L351.80 186.38L352.00 186.99L352.20 187.60L352.40 188.20L352.60 188.80L352.80 189.40" fill="none" stroke="#ea3035" stroke-width="2.4" stroke-linejoin="round" stroke-linecap="butt" clip-path="url(#ca)"/>
<path d="M100.20 410.04L100.30 410.22L100.40 410.42L100.50 410.65L100.60 410.90L100.70 411.15L100.80 411.41L100.90 411.67L101.00 411.93L101.10 412.17L101.20 412.41L101.30 412.64L101.40 412.86L101.50 413.07L101.60 413.28L101.70 413.47L101.80 413.66L101.90 413.83L102.00 414.01L102.10 414.17L102.20 414.33L102.30 414.49L102.40 414.63L102.50 414.78L102.60 414.92L102.70 415.05L102.80 415.18L102.90 415.31L103.00 415.43L103.10 415.54L103.20 415.64L103.30 415.74L103.40 415.82L103.50 415.87L103.60 415.89L103.70 415.87L103.80 415.81L103.90 415.68L104.00 415.49L104.10 415.22L104.20 414.89L104.30 414.50L104.40 414.04L104.50 413.54L104.60 412.99L104.70 412.40L104.80 411.78L104.90 411.13L105.00 410.45L105.10 409.75L105.20 409.02L105.30 408.26L105.40 407.47L105.50 406.65L105.60 405.80L105.70 404.91L105.80 403.98L105.90 403.01L106.00 402.00L106.10 400.95L106.20 399.84L106.30 398.67L106.40 397.45L106.50 396.15L106.60 394.79L106.70 393.35L106.80 391.82L106.90 390.20L107.00 388.49L107.10 386.68L107.20 384.78L107.30 382.81L107.40 380.80L107.50 378.79L107.60 376.84L107.70 375.03L107.80 373.43L107.90 372.12L108.00 371.15L108.10 370.54L108.20 370.30L108.30 370.40L108.40 370.78L108.50 371.40L108.60 372.17L108.70 373.04L108.80 373.97L108.90 374.92L109.00 375.86L109.10 376.78L109.20 377.68L109.30 378.54L109.40 379.37L109.50 380.17L109.60 380.95L109.70 381.69L109.80 382.41L109.90 383.10L110.00 383.77L110.10 384.42L110.20 385.05L110.30 385.65L110.40 386.24L110.50 386.81L110.60 387.37L110.70 387.91L110.80 388.43L110.90 388.94L111.00 389.43L111.10 389.91L111.20 390.38L111.30 390.84L111.40 391.28L111.50 391.71L111.60 392.14L111.70 392.55L111.80 392.95L111.90 393.34L112.00 393.73L112.10 394.10L112.20 394.47L112.30 394.83L112.40 395.18L112.50 395.52L112.60 395.86L112.70 396.19L112.80 396.51L112.90 396.82L113.00 397.13L113.10 397.44L113.20 397.73L113.30 398.03L113.40 398.31L113.50 398.59L113.60 398.87L113.70 399.14L113.80 399.41L113.90 399.67L114.00 399.92L114.10 400.17L114.20 400.42L114.30 400.66L114.40 400.90L114.50 401.14L114.60 401.37L114.70 401.60L114.80 401.82L114.90 402.04L115.00 402.26L115.10 402.47L115.20 402.68L115.30 402.89L115.40 403.09L115.50 403.29L115.60 403.49L115.70 403.69L115.80 403.88L115.90 404.07L116.00 404.25L116.10 404.44L116.20 404.62L116.30 404.80L116.40 404.97L116.50 405.15L116.60 405.32L116.70 405.49L116.80 405.66L116.90 405.82L117.00 405.98L117.10 406.14L117.20 406.30L117.30 406.46L117.40 406.61L117.50 406.77L117.60 406.92L117.70 407.07L117.80 407.21L117.90 407.36L118.00 407.50L118.10 407.64L118.20 407.78L118.30 407.92L118.40 408.06L118.50 408.20L118.60 408.33L118.70 408.46L118.80 408.59L118.90 408.72L119.00 408.85L119.10 408.98L119.20 409.10L119.30 409.23L119.40 409.35L119.50 409.47L119.60 409.59L119.70 409.71L119.80 409.82L119.90 409.94L120.00 410.06L120.10 410.17L120.20 410.28L120.30 410.39L120.40 410.50L120.50 410.61L120.60 410.72L120.70 410.83L120.80 410.93L120.90 411.04L121.00 411.14L121.10 411.25L121.20 411.35L121.30 411.44L121.40 411.54L121.50 411.63L121.60 411.70L121.70 411.76L121.80 411.80L121.90 411.80L122.00 411.76L122.10 411.66L122.20 411.49L122.30 411.24L122.40 410.92L122.50 410.51L122.60 410.02L122.70 409.46L122.80 408.84L122.90 408.16L123.00 407.42L123.10 406.64L123.20 405.82L123.30 404.94L123.40 404.03L123.50 403.07L123.60 402.05L123.70 400.98L123.80 399.86L123.90 398.66L124.00 397.40L124.10 396.05L124.20 394.62L124.30 393.09L124.40 391.46L124.50 389.72L124.60 387.86L124.70 385.89L124.80 383.83L124.90 381.71L125.00 379.57L125.10 377.48L125.20 375.52L125.30 373.78L125.40 372.34L125.50 371.27L125.60 370.58L125.70 370.30L125.80 370.39L125.90 370.79L126.00 371.43L126.10 372.25L126.20 373.18L126.30 374.17L126.40 375.18L126.50 376.18L126.60 377.15L126.70 378.09L126.80 378.99L126.90 379.86L127.00 380.69L127.10 381.49L127.20 382.26L127.30 383.00L127.40 383.71L127.50 384.39L127.60 385.05L127.70 385.69L127.80 386.31L127.90 386.90L128.00 387.48L128.10 388.04L128.20 388.58L128.30 389.10L128.40 389.61L128.50 390.10L128.60 390.58L128.70 391.05L128.80 391.50L128.90 391.94L129.00 392.37L129.10 392.79L129.20 393.19L129.30 393.59L129.40 393.98L129.50 394.35L129.60 394.72L129.70 395.08L129.80 395.43L129.90 395.78L130.00 396.11L130.10 396.44L130.20 396.76L130.30 397.07L130.40 397.38L130.50 397.68L130.60 397.98L130.70 398.27L130.80 398.55L130.90 398.82L131.00 399.10L131.10 399.36L131.20 399.62L131.30 399.88L131.40 400.13L131.50 400.38L131.60 400.62L131.70 400.86L131.80 401.09L131.90 401.32L132.00 401.55L132.10 401.77L132.20 401.99L132.30 402.20L132.40 402.41L132.50 402.62L132.60 402.83L132.70 403.03L132.80 403.23L132.90 403.42L133.00 403.61L133.10 403.80L133.20 403.99L133.30 404.17L133.40 404.35L133.50 404.53L133.60 404.70L133.70 404.87L133.80 405.04L133.90 405.21L134.00 405.38L134.10 405.54L134.20 405.70L134.30 405.86L134.40 406.02L134.50 406.17L134.60 406.32L134.70 406.47L134.80 406.62L134.90 406.77L135.00 406.91L135.10 407.05L135.20 407.19L135.30 407.33L135.40 407.47L135.50 407.61L135.60 407.74L135.70 407.87L135.80 408.00L135.90 408.13L136.00 408.26L136.10 408.39L136.20 408.51L136.30 408.63L136.40 408.76L136.50 408.88L136.60 409.00L136.70 409.11L136.80 409.23L136.90 409.34L137.00 409.45L137.10 409.55L137.20 409.64L137.30 409.72L137.40 409.78L137.50 409.80L137.60 409.78L137.70 409.72L137.80 409.59L137.90 409.39L138.00 409.13L138.10 408.79L138.20 408.39L138.30 407.92L138.40 407.40L138.50 406.83L138.60 406.22L138.70 405.57L138.80 404.89L138.90 404.18L139.00 403.43L139.10 402.65L139.20 401.84L139.30 400.99L139.40 400.10L139.50 399.17L139.60 398.20L139.70 397.17L139.80 396.09L139.90 394.95L140.00 393.75L140.10 392.48L140.20 391.12L140.30 389.69L140.40 388.16L140.50 386.54L140.60 384.81L140.70 383.00L140.80 381.12L140.90 379.19L141.00 377.26L141.10 375.40L141.20 373.68L141.30 372.18L141.40 370.97L141.50 370.10L141.60 369.61L141.70 369.50L141.80 369.73L141.90 370.24L142.00 370.98L142.10 371.88L142.20 372.87L142.30 373.90L142.40 374.94L142.50 375.96L142.60 376.95L142.70 377.91L142.80 378.82L142.90 379.70L143.00 380.54L143.10 381.34L143.20 382.11L143.30 382.85L143.40 383.57L143.50 384.25L143.60 384.91L143.70 385.54L143.80 386.15L143.90 386.74L144.00 387.31L144.10 387.87L144.20 388.40L144.30 388.92L144.40 389.42L144.50 389.90L144.60 390.37L144.70 390.83L144.80 391.28L144.90 391.71L145.00 392.13L145.10 392.54L145.20 392.93L145.30 393.32L145.40 393.70L145.50 394.07L145.60 394.43L145.70 394.78L145.80 395.12L145.90 395.45L146.00 395.78L146.10 396.10L146.20 396.41L146.30 396.71L146.40 397.01L146.50 397.30L146.60 397.59L146.70 397.87L146.80 398.14L146.90 398.41L147.00 398.67L147.10 398.93L147.20 399.18L147.30 399.43L147.40 399.67L147.50 399.91L147.60 400.14L147.70 400.37L147.80 400.60L147.90 400.82L148.00 401.04L148.10 401.25L148.20 401.46L148.30 401.67L148.40 401.87L148.50 402.07L148.60 402.27L148.70 402.46L148.80 402.65L148.90 402.84L149.00 403.02L149.10 403.20L149.20 403.38L149.30 403.55L149.40 403.73L149.50 403.90L149.60 404.06L149.70 404.23L149.80 404.39L149.90 404.55L150.00 404.71L150.10 404.87L150.20 405.02L150.30 405.17L150.40 405.32L150.50 405.47L150.60 405.61L150.70 405.76L150.80 405.90L150.90 406.04L151.00 406.18L151.10 406.31L151.20 406.45L151.30 406.58L151.40 406.71L151.50 406.84L151.60 406.97L151.70 407.09L151.80 407.22L151.90 407.34L152.00 407.45L152.10 407.56L152.20 407.66L152.30 407.73L152.40 407.79L152.50 407.80L152.60 407.77L152.70 407.67L152.80 407.50L152.90 407.25L153.00 406.91L153.10 406.49L153.20 405.98L153.30 405.40L153.40 404.74L153.50 404.02L153.60 403.24L153.70 402.41L153.80 401.53L153.90 400.61L154.00 399.63L154.10 398.60L154.20 397.51L154.30 396.37L154.40 395.15L154.50 393.86L154.60 392.49L154.70 391.03L154.80 389.46L154.90 387.79L155.00 386.00L155.10 384.10L155.20 382.08L155.30 379.97L155.40 377.80L155.50 375.63L155.60 373.52L155.70 371.57L155.80 369.86L155.90 368.49L156.00 367.53L156.10 367.00L156.20 366.90L156.30 367.20L156.40 367.83L156.50 368.72L156.60 369.77L156.70 370.93L156.80 372.13L156.90 373.33L157.00 374.51L157.10 375.64L157.20 376.72L157.30 377.75L157.40 378.72L157.50 379.65L157.60 380.54L157.70 381.38L157.80 382.19L157.90 382.96L158.00 383.70L158.10 384.41L158.20 385.08L158.30 385.74L158.40 386.36L158.50 386.97L158.60 387.55L158.70 388.11L158.80 388.65L158.90 389.18L159.00 389.68L159.10 390.17L159.20 390.65L159.30 391.11L159.40 391.55L159.50 391.98L159.60 392.40L159.70 392.81L159.80 393.21L159.90 393.59L160.00 393.97L160.10 394.34L160.20 394.69L160.30 395.04L160.40 395.38L160.50 395.70L160.60 396.03L160.70 396.34L160.80 396.65L160.90 396.95L161.00 397.24L161.10 397.52L161.20 397.80L161.30 398.08L161.40 398.35L161.50 398.61L161.60 398.86L161.70 399.11L161.80 399.36L161.90 399.60L162.00 399.84L162.10 400.07L162.20 400.30L162.30 400.52L162.40 400.74L162.50 400.95L162.60 401.16L162.70 401.37L162.80 401.57L162.90 401.77L163.00 401.97L163.10 402.16L163.20 402.35L163.30 402.54L163.40 402.72L163.50 402.90L163.60 403.08L163.70 403.25L163.80 403.43L163.90 403.59L164.00 403.76L164.10 403.92L164.20 404.08L164.30 404.23L164.40 404.38L164.50 404.51L164.60 404.63L164.70 404.72L164.80 404.78L164.90 404.80L165.00 404.76L165.10 404.66L165.20 404.49L165.30 404.25L165.40 403.93L165.50 403.54L165.60 403.09L165.70 402.58L165.80 402.03L165.90 401.43L166.00 400.80L166.10 400.13L166.20 399.44L166.30 398.72L166.40 397.96L166.50 397.18L166.60 396.36L166.70 395.51L166.80 394.62L166.90 393.70L167.00 392.72L167.10 391.71L167.20 390.64L167.30 389.52L167.40 388.33L167.50 387.08L167.60 385.76L167.70 384.37L167.80 382.89L167.90 381.31L168.00 379.65L168.10 377.89L168.20 376.05L168.30 374.15L168.40 372.23L168.50 370.34L168.60 368.55L168.70 366.96L168.80 365.64L168.90 364.68L169.00 364.12L169.10 364.00L169.20 364.30L169.30 364.97L169.40 365.95L169.50 367.14L169.60 368.48L169.70 369.88L169.80 371.29L169.90 372.68L170.00 374.01L170.10 375.28L170.20 376.48L170.30 377.61L170.40 378.68L170.50 379.69L170.60 380.65L170.70 381.55L170.80 382.41L170.90 383.23L171.00 384.01L171.10 384.75L171.20 385.46L171.30 386.14L171.40 386.79L171.50 387.42L171.60 388.02L171.70 388.60L171.80 389.15L171.90 389.69L172.00 390.20L172.10 390.70L172.20 391.18L172.30 391.65L172.40 392.10L172.50 392.53L172.60 392.96L172.70 393.37L172.80 393.76L172.90 394.15L173.00 394.52L173.10 394.89L173.20 395.24L173.30 395.59L173.40 395.92L173.50 396.25L173.60 396.57L173.70 396.88L173.80 397.18L173.90 397.47L174.00 397.76L174.10 398.04L174.20 398.32L174.30 398.59L174.40 398.85L174.50 399.10L174.60 399.36L174.70 399.60L174.80 399.84L174.90 400.08L175.00 400.31L175.10 400.53L175.20 400.75L175.30 400.97L175.40 401.18L175.50 401.38L175.60 401.57L175.70 401.75L175.80 401.91L175.90 402.05L176.00 402.15L176.10 402.20L176.20 402.20L176.30 402.13L176.40 401.98L176.50 401.76L176.60 401.47L176.70 401.10L176.80 400.66L176.90 400.17L177.00 399.63L177.10 399.05L177.20 398.44L177.30 397.79L177.40 397.12L177.50 396.42L177.60 395.69L177.70 394.93L177.80 394.14L177.90 393.32L178.00 392.46L178.10 391.57L178.20 390.63L178.30 389.66L178.40 388.64L178.50 387.56L178.60 386.44L178.70 385.25L178.80 384.00L178.90 382.68L179.00 381.28L179.10 379.80L179.20 378.23L179.30 376.57L179.40 374.82L179.50 373.00L179.60 371.11L179.70 369.22L179.80 367.36L179.90 365.62L180.00 364.09L180.10 362.84L180.20 361.96L180.30 361.51L180.40 361.50L180.50 361.92L180.60 362.71L180.70 363.80L180.80 365.11L180.90 366.54L181.00 368.03L181.10 369.53L181.20 370.98L181.30 372.37L181.40 373.68L181.50 374.92L181.60 376.08L181.70 377.17L181.80 378.20L181.90 379.17L182.00 380.09L182.10 380.96L182.20 381.78L182.30 382.56L182.40 383.31L182.50 384.02L182.60 384.70L182.70 385.35L182.80 385.97L182.90 386.56L183.00 387.14L183.10 387.69L183.20 388.21L183.30 388.72L183.40 389.21L183.50 389.69L183.60 390.15L183.70 390.59L183.80 391.02L183.90 391.43L184.00 391.83L184.10 392.22L184.20 392.60L184.30 392.96L184.40 393.32L184.50 393.66L184.60 394.00L184.70 394.32L184.80 394.64L184.90 394.95L185.00 395.25L185.10 395.55L185.20 395.83L185.30 396.11L185.40 396.38L185.50 396.65L185.60 396.91L185.70 397.16L185.80 397.41L185.90 397.65L186.00 397.88L186.10 398.10L186.20 398.30L186.30 398.48L186.40 398.63L186.50 398.74L186.60 398.80L186.70 398.79L186.80 398.71L186.90 398.54L187.00 398.28L187.10 397.93L187.20 397.50L187.30 396.99L187.40 396.41L187.50 395.77L187.60 395.09L187.70 394.35L187.80 393.58L187.90 392.76L188.00 391.91L188.10 391.02L188.20 390.08L188.30 389.10L188.40 388.06L188.50 386.98L188.60 385.83L188.70 384.62L188.80 383.34L188.90 381.98L189.00 380.54L189.10 379.00L189.20 377.37L189.30 375.63L189.40 373.79L189.50 371.85L189.60 369.85L189.70 367.82L189.80 365.83L189.90 363.96L190.00 362.30L190.10 360.95L190.20 360.00L190.30 359.51L190.40 359.50L190.50 359.95L190.60 360.81L190.70 361.99L190.80 363.39L190.90 364.92L191.00 366.51L191.10 368.09L191.20 369.61L191.30 371.06L191.40 372.43L191.50 373.70L191.60 374.90L191.70 376.01L191.80 377.05L191.90 378.03L192.00 378.95L192.10 379.82L192.20 380.64L192.30 381.42L192.40 382.15L192.50 382.85L192.60 383.52L192.70 384.16L192.80 384.77L192.90 385.35L193.00 385.90L193.10 386.44L193.20 386.95L193.30 387.45L193.40 387.92L193.50 388.38L193.60 388.82L193.70 389.24L193.80 389.66L193.90 390.05L194.00 390.44L194.10 390.81L194.20 391.17L194.30 391.52L194.40 391.86L194.50 392.19L194.60 392.51L194.70 392.82L194.80 393.12L194.90 393.40L195.00 393.68L195.10 393.95L195.20 394.19L195.30 394.41L195.40 394.59L195.50 394.73L195.60 394.80L195.70 394.80L195.80 394.71L195.90 394.52L196.00 394.23L196.10 393.83L196.20 393.34L196.30 392.76L196.40 392.09L196.50 391.36L196.60 390.56L196.70 389.70L196.80 388.79L196.90 387.82L197.00 386.80L197.10 385.72L197.20 384.57L197.30 383.36L197.40 382.07L197.50 380.70L197.60 379.24L197.70 377.68L197.80 376.01L197.90 374.22L198.00 372.31L198.10 370.30L198.20 368.21L198.30 366.08L198.40 363.97L198.50 361.97L198.60 360.18L198.70 358.70L198.80 357.63L198.90 357.02L199.00 356.90L199.10 357.26L199.20 358.02L199.30 359.11L199.40 360.43L199.50 361.87L199.60 363.36L199.70 364.83L199.80 366.24L199.90 367.57L200.00 368.82L200.10 369.97L200.20 371.03L200.30 372.02L200.40 372.93L200.50 373.79L200.60 374.58L200.70 375.33L200.80 376.03L200.90 376.69L201.00 377.32L201.10 377.91L201.20 378.47L201.30 379.01L201.40 379.52L201.50 380.00L201.60 380.46L201.70 380.91L201.80 381.33L201.90 381.74L202.00 382.13L202.10 382.50L202.20 382.86L202.30 383.21L202.40 383.53L202.50 383.84L202.60 384.13L202.70 384.38L202.80 384.60L202.90 384.77L203.00 384.87L203.10 384.90L203.20 384.84L203.30 384.67L203.40 384.41L203.50 384.03L203.60 383.56L203.70 383.00L203.80 382.35L203.90 381.63L204.00 380.85L204.10 380.00L204.20 379.09L204.30 378.13L204.40 377.10L204.50 376.01L204.60 374.85L204.70 373.61L204.80 372.28L204.90 370.86L205.00 369.34L205.10 367.71L205.20 365.98L205.30 364.15L205.40 362.26L205.50 360.36L205.60 358.52L205.70 356.82L205.80 355.38L205.90 354.30L206.00 353.66L206.10 353.51L206.20 353.87L206.30 354.69L206.40 355.88L206.50 357.35L206.60 358.97L206.70 360.65L206.80 362.30L206.90 363.87L207.00 365.32L207.10 366.64L207.20 367.83L207.30 368.90L207.40 369.87L207.50 370.74L207.60 371.53L207.70 372.25L207.80 372.89L207.90 373.46L208.00 373.95L208.10 374.35L208.20 374.65L208.30 374.83L208.40 374.90L208.50 374.83L208.60 374.62L208.70 374.28L208.80 373.81L208.90 373.23L209.00 372.54L209.10 371.77L209.20 370.91L209.30 369.97L209.40 368.96L209.50 367.88L209.60 366.72L209.70 365.48L209.80 364.15L209.90 362.72L210.00 361.18L210.10 359.53L210.20 357.76L210.30 355.90L210.40 353.95L210.50 351.97L210.60 350.02L210.70 348.20L210.80 346.60L210.90 345.32L211.00 344.45L211.10 344.04L211.20 344.09L211.30 344.57L211.40 345.41L211.50 346.51L211.60 347.75L211.70 349.05L211.80 350.33L211.90 351.54L212.00 352.64L212.10 353.62L212.20 354.48L212.30 355.21L212.40 355.82L212.50 356.30L212.60 356.64L212.70 356.83L212.80 356.87L212.90 356.73L213.00 356.42L213.10 355.94L213.20 355.28L213.30 354.46L213.40 353.49L213.50 352.36L213.60 351.08L213.70 349.66L213.80 348.09L213.90 346.40L214.00 344.61L214.10 342.75L214.20 340.90L214.30 339.15L214.40 337.58L214.50 336.31L214.60 335.42L214.70 334.96L214.80 334.94L214.90 335.31L215.00 336.00L215.10 336.88L215.20 337.82L215.30 338.69L215.40 339.38L215.50 339.76L215.60 339.76L215.70 339.32L215.80 338.40L215.90 337.02L216.00 335.23L216.10 333.10L216.20 330.77L216.30 328.36L216.40 326.03L216.50 323.90L216.60 322.09L216.70 320.68L216.80 319.72L216.90 319.24L217.00 319.22L217.10 319.66L217.20 320.49L217.30 321.66L217.40 323.11L217.50 324.77L217.60 326.58L217.70 328.47L217.80 330.40L217.90 332.34L218.00 334.26L218.10 336.14L218.20 337.98L218.30 339.78L218.40 341.54L218.50 343.26L218.60 344.95L218.70 346.60L218.80 348.23L218.90 349.84L219.00 351.43L219.10 353.00L219.20 354.55L219.30 356.09L219.40 357.61L219.50 359.11L219.60 360.59L219.70 362.05L219.80 363.49L219.90 364.89L220.00 366.26L220.10 367.59L220.20 368.87L220.30 370.12L220.40 371.32L220.50 372.47L220.60 373.57L220.70 374.63L220.80 375.65L220.90 376.62L221.00 377.56L221.10 378.46L221.20 379.34L221.30 380.18L221.40 381.01L221.50 381.81L221.60 382.59L221.70 383.35L221.80 384.10L221.90 384.83L222.00 385.54L222.10 386.24L222.20 386.92L222.30 387.58L222.40 388.23L222.50 388.86L222.60 389.48L222.70 390.09L222.80 390.68L222.90 391.26L223.00 391.82L223.10 392.38L223.20 392.92L223.30 393.44L223.40 393.96L223.50 394.47L223.60 394.96L223.70 395.44L223.80 395.92L223.90 396.38L224.00 396.84L224.10 397.28L224.20 397.71L224.30 398.14L224.40 398.56L224.50 398.97L224.60 399.37L224.70 399.77L224.80 400.15L224.90 400.53L225.00 400.91L225.10 401.28L225.20 401.64L225.30 401.99L225.40 402.35L225.50 402.69L225.60 403.03L225.70 403.37L225.80 403.70L225.90 404.03L226.00 404.36L226.10 404.68L226.20 405.00L226.30 405.32L226.40 405.64L226.50 405.95L226.60 406.26L226.70 406.58L226.80 406.89L226.90 407.20L227.00 407.51L227.10 407.82L227.20 408.13L227.30 408.44L227.40 408.75L227.50 409.07L227.60 409.38L227.70 409.70L227.80 410.02L227.90 410.34L228.00 410.66L228.10 410.98L228.20 411.31L228.30 411.63L228.40 411.96L228.50 412.28L228.60 412.61L228.70 412.93L228.80 413.25L228.90 413.57L229.00 413.89L229.10 414.20L229.20 414.51L229.30 414.82L229.40 415.12L229.50 415.41L229.60 415.70L229.70 415.98L229.80 416.25L229.90 416.52L230.00 416.78L230.10 417.03L230.20 417.27L230.30 417.51L230.40 417.74L230.50 417.97L230.60 418.19L230.70 418.40L230.80 418.61L230.90 418.82L231.00 419.02L231.10 419.20L231.20 419.38L231.30 419.55L231.40 419.70L231.50 419.84L231.60 419.96L231.70 420.07L231.80 420.15L231.90 420.22L232.00 420.28L232.10 420.32L232.20 420.35L232.30 420.37L232.40 420.38L232.50 420.39L232.60 420.39L232.70 420.40L232.80 420.40L232.90 420.40L233.00 420.40L233.10 420.40L233.20 420.40L233.30 420.40L233.40 420.40L233.50 420.40L233.60 420.40L233.70 420.40L233.80 420.40L233.90 420.40L234.00 420.40L234.10 420.40L234.20 420.40L234.30 420.40L234.40 420.40L234.50 420.40L234.60 420.40L234.70 420.40L234.80 420.40L234.90 420.40L235.00 420.40L235.10 420.40L235.20 420.40L235.30 420.40L235.40 420.40L235.50 420.40L235.60 420.40L235.70 420.40L235.80 420.40L235.90 420.40L236.00 420.40L236.10 420.40L236.20 420.40L236.30 420.40L236.40 420.40L236.50 420.40L236.60 420.40L236.70 420.40L236.80 420.40L236.90 420.40L237.00 420.40L237.10 420.40L237.20 420.40L237.30 420.40L237.40 420.40L237.50 420.40L237.60 420.40L237.70 420.40L237.80 420.40L237.90 420.40L238.00 420.40L238.10 420.40L238.20 420.40L238.30 420.40L238.40 420.40L238.50 420.40L238.60 420.40L238.70 420.40L238.80 420.40L238.90 420.40L239.00 420.40L239.10 420.40L239.20 420.40L239.30 420.40L239.40 420.40L239.50 420.40L239.60 420.40L239.70 420.40L239.80 420.40L239.90 420.40L240.00 420.40L240.10 420.40L240.20 420.40L240.30 420.40L240.40 420.40L240.50 420.40L240.60 420.40L240.70 420.40L240.80 420.40L240.90 420.40L241.00 420.40L241.10 420.40L241.20 420.40L241.30 420.40L241.40 420.40L241.50 420.40L241.60 420.40L241.70 420.40L241.80 420.40L241.90 420.40L242.00 420.40L242.10 420.40L242.20 420.40L242.30 420.40L242.40 420.40L242.50 420.40L242.60 420.40L242.70 420.40L242.80 420.40L242.90 420.40L243.00 420.40L243.10 420.40L243.20 420.40L243.30 420.40L243.40 420.40L243.50 420.40L243.60 420.40L243.70 420.40L243.80 420.40L243.90 420.40L244.00 420.40L244.10 420.40L244.20 420.40L244.30 420.40L244.40 420.40L244.50 420.40L244.60 420.40L244.70 420.40L244.80 420.40L244.90 420.40L245.00 420.40L245.10 420.40L245.20 420.40L245.30 420.40L245.40 420.40L245.50 420.40L245.60 420.40L245.70 420.40L245.80 420.40L245.90 420.40L246.00 420.40L246.10 420.40L246.20 420.40L246.30 420.40L246.40 420.40L246.50 420.40L246.60 420.40L246.70 420.40L246.80 420.40L246.90 420.40L247.00 420.40L247.10 420.40L247.20 420.40L247.30 420.40L247.40 420.40L247.50 420.40L247.60 420.40L247.70 420.40L247.80 420.40L247.90 420.40L248.00 420.40L248.10 420.40L248.20 420.40L248.30 420.40L248.40 420.40L248.50 420.40L248.60 420.40L248.70 420.40L248.80 420.40L248.90 420.40L249.00 420.40L249.10 420.40L249.20 420.40L249.30 420.40L249.40 420.40L249.50 420.40L249.60 420.40L249.70 420.40L249.80 420.40L249.90 420.40L250.00 420.40L250.10 420.40L250.20 420.40L250.30 420.40L250.40 420.40L250.50 420.40L250.60 420.40L250.70 420.40L250.80 420.40L250.90 420.40L251.00 420.40L251.10 420.40L251.20 420.40L251.30 420.40L251.40 420.40L251.50 420.40L251.60 420.40L251.70 420.40L251.80 420.40L251.90 420.40L252.00 420.40L252.10 420.40L252.20 420.40L252.30 420.40L252.40 420.40L252.50 420.40L252.60 420.40L252.70 420.40L252.80 420.40L252.90 420.40L253.00 420.40L253.10 420.40L253.20 420.40L253.30 420.40L253.40 420.40L253.50 420.40L253.60 420.40L253.70 420.40L253.80 420.40L253.90 420.40L254.00 420.40L254.10 420.40L254.20 420.40L254.30 420.40L254.40 420.40L254.50 420.40L254.60 420.40L254.70 420.40L254.80 420.40L254.90 420.40L255.00 420.40L255.10 420.40L255.20 420.40L255.30 420.40L255.40 420.40L255.50 420.40L255.60 420.40L255.70 420.40L255.80 420.40L255.90 420.40L256.00 420.40L256.10 420.40L256.20 420.40L256.30 420.40L256.40 420.40L256.50 420.40L256.60 420.40L256.70 420.40L256.80 420.40L256.90 420.40L257.00 420.40L257.10 420.40L257.20 420.40L257.30 420.40L257.40 420.40L257.50 420.40L257.60 420.40L257.70 420.40L257.80 420.40L257.90 420.40L258.00 420.40L258.10 420.40L258.20 420.40L258.30 420.40L258.40 420.40L258.50 420.40L258.60 420.40L258.70 420.40L258.80 420.40L258.90 420.40L259.00 420.40L259.10 420.40L259.20 420.40L259.30 420.40L259.40 420.40L259.50 420.40L259.60 420.40L259.70 420.40L259.80 420.40L259.90 420.40L260.00 420.40L260.10 420.40L260.20 420.40L260.30 420.40L260.40 420.40L260.50 420.40L260.60 420.40L260.70 420.40L260.80 420.40L260.90 420.40L261.00 420.40L261.10 420.40L261.20 420.40L261.30 420.40L261.40 420.40L261.50 420.40L261.60 420.40L261.70 420.40L261.80 420.40L261.90 420.40L262.00 420.40L262.10 420.40L262.20 420.40L262.30 420.40L262.40 420.40L262.50 420.40L262.60 420.40L262.70 420.40L262.80 420.40L262.90 420.40L263.00 420.40L263.10 420.40L263.20 420.40L263.30 420.40L263.40 420.40L263.50 420.40L263.60 420.40L263.70 420.40L263.80 420.40L263.90 420.40L264.00 420.40L264.10 420.40L264.20 420.40L264.30 420.40L264.40 420.40L264.50 420.40L264.60 420.40L264.70 420.40L264.80 420.40L264.90 420.40L265.00 420.40L265.10 420.40L265.20 420.40L265.30 420.40L265.40 420.40L265.50 420.40L265.60 420.40L265.70 420.40L265.80 420.40L265.90 420.40L266.00 420.40L266.10 420.40L266.20 420.40L266.30 420.40L266.40 420.40L266.50 420.40L266.60 420.40L266.70 420.40L266.80 420.40L266.90 420.40L267.00 420.40L267.10 420.40L267.20 420.40L267.30 420.40L267.40 420.40L267.50 420.40L267.60 420.40L267.70 420.40L267.80 420.40L267.90 420.40L268.00 420.40L268.10 420.40L268.20 420.40L268.30 420.40L268.40 420.40L268.50 420.40L268.60 420.40L268.70 420.40L268.80 420.40L268.90 420.40L269.00 420.40L269.10 420.40L269.20 420.40L269.30 420.40L269.40 420.40L269.50 420.40L269.60 420.40L269.70 420.40L269.80 420.40L269.90 420.40L270.00 420.40L270.10 420.40L270.20 420.40L270.30 420.40L270.40 420.40L270.50 420.40L270.60 420.40L270.70 420.40L270.80 420.40L270.90 420.40L271.00 420.40L271.10 420.40L271.20 420.40L271.30 420.40L271.40 420.40L271.50 420.40L271.60 420.40L271.70 420.40L271.80 420.40L271.90 420.40L272.00 420.40L272.10 420.40L272.20 420.40L272.30 420.40L272.40 420.40L272.50 420.40L272.60 420.40L272.70 420.40L272.80 420.40L272.90 420.40L273.00 420.40L273.10 420.40L273.20 420.40L273.30 420.40L273.40 420.40L273.50 420.40L273.60 420.40L273.70 420.40L273.80 420.40L273.90 420.40L274.00 420.40L274.10 420.40L274.20 420.40L274.30 420.40L274.40 420.40L274.50 420.40L274.60 420.40L274.70 420.40L274.80 420.40L274.90 420.40L275.00 420.40L275.10 420.40L275.20 420.40L275.30 420.40L275.40 420.40L275.50 420.40L275.60 420.40L275.70 420.40L275.80 420.40L275.90 420.40L276.00 420.40L276.10 420.40L276.20 420.40L276.30 420.40L276.40 420.40L276.50 420.40L276.60 420.40L276.70 420.40L276.80 420.40L276.90 420.40L277.00 420.40L277.10 420.40L277.20 420.40L277.30 420.40L277.40 420.40L277.50 420.40L277.60 420.40L277.70 420.40L277.80 420.40L277.90 420.40L278.00 420.40L278.10 420.40L278.20 420.40L278.30 420.40L278.40 420.40L278.50 420.40L278.60 420.40L278.70 420.40L278.80 420.40L278.90 420.40L279.00 420.40L279.10 420.40L279.20 420.40L279.30 420.40L279.40 420.40L279.50 420.40L279.60 420.40L279.70 420.40L279.80 420.40L279.90 420.40L280.00 420.40L280.10 420.40L280.20 420.40L280.30 420.40L280.40 420.40L280.50 420.40L280.60 420.40L280.70 420.40L280.80 420.40L280.90 420.40L281.00 420.40L281.10 420.40L281.20 420.40L281.30 420.40L281.40 420.40L281.50 420.40L281.60 420.40L281.70 420.40L281.80 420.40L281.90 420.40L282.00 420.40L282.10 420.40L282.20 420.40L282.30 420.40L282.40 420.40L282.50 420.40L282.60 420.40L282.70 420.40L282.80 420.40L282.90 420.40L283.00 420.40L283.10 420.40L283.20 420.40L283.30 420.40L283.40 420.40L283.50 420.40L283.60 420.40L283.70 420.40L283.80 420.40L283.90 420.40L284.00 420.40L284.10 420.40L284.20 420.40L284.30 420.40L284.40 420.40L284.50 420.40L284.60 420.40L284.70 420.40L284.80 420.40L284.90 420.40L285.00 420.40L285.10 420.40L285.20 420.40L285.30 420.40L285.40 420.40L285.50 420.40L285.60 420.40L285.70 420.40L285.80 420.40L285.90 420.40L286.00 420.40L286.10 420.40L286.20 420.40L286.30 420.40L286.40 420.40L286.50 420.40L286.60 420.40L286.70 420.40L286.80 420.40L286.90 420.40L287.00 420.40L287.10 420.40L287.20 420.40L287.30 420.40L287.40 420.40L287.50 420.40L287.60 420.40L287.70 420.40L287.80 420.40L287.90 420.40L288.00 420.40L288.10 420.40L288.20 420.40L288.30 420.40L288.40 420.40L288.50 420.40L288.60 420.40L288.70 420.40L288.80 420.40L288.90 420.40L289.00 420.40L289.10 420.40L289.20 420.40L289.30 420.40L289.40 420.40L289.50 420.40L289.60 420.40L289.70 420.40L289.80 420.40L289.90 420.40L290.00 420.40L290.10 420.40L290.20 420.40L290.30 420.40L290.40 420.40L290.50 420.40L290.60 420.40L290.70 420.40L290.80 420.40L290.90 420.40L291.00 420.40L291.10 420.40L291.20 420.40L291.30 420.40L291.40 420.40L291.50 420.40L291.60 420.40L291.70 420.40L291.80 420.40L291.90 420.40L292.00 420.40L292.10 420.40L292.20 420.40L292.30 420.40L292.40 420.40L292.50 420.40L292.60 420.40L292.70 420.40L292.80 420.40L292.90 420.40L293.00 420.40L293.10 420.40L293.20 420.40L293.30 420.40L293.40 420.40L293.50 420.40L293.60 420.40L293.70 420.40L293.80 420.40L293.90 420.40L294.00 420.40L294.10 420.40L294.20 420.40L294.30 420.40L294.40 420.40L294.50 420.40L294.60 420.40L294.70 420.40L294.80 420.40L294.90 420.40L295.00 420.40L295.10 420.40L295.20 420.40L295.30 420.40L295.40 420.40L295.50 420.40L295.60 420.40L295.70 420.40L295.80 420.40L295.90 420.40L296.00 420.40L296.10 420.40L296.20 420.40L296.30 420.40L296.40 420.40L296.50 420.40L296.60 420.40L296.70 420.40L296.80 420.40L296.90 420.40L297.00 420.40L297.10 420.40L297.20 420.40L297.30 420.40L297.40 420.40L297.50 420.40L297.60 420.40L297.70 420.40L297.80 420.40L297.90 420.40L298.00 420.40L298.10 420.40L298.20 420.40L298.30 420.40L298.40 420.40L298.50 420.40L298.60 420.40L298.70 420.40L298.80 420.40L298.90 420.40L299.00 420.40L299.10 420.40L299.20 420.40L299.30 420.40L299.40 420.40L299.50 420.40L299.60 420.40L299.70 420.40L299.80 420.40L299.90 420.40L300.00 420.40L300.10 420.40L300.20 420.40L300.30 420.40L300.40 420.40L300.50 420.40L300.60 420.40L300.70 420.40L300.80 420.40L300.90 420.40L301.00 420.40L301.10 420.40L301.20 420.40L301.30 420.40L301.40 420.40L301.50 420.40L301.60 420.40L301.70 420.40L301.80 420.40L301.90 420.40L302.00 420.40L302.10 420.40L302.20 420.40L302.30 420.40L302.40 420.40L302.50 420.40L302.60 420.40L302.70 420.40L302.80 420.40L302.90 420.40L303.00 420.40L303.10 420.40L303.20 420.40L303.30 420.40L303.40 420.40L303.50 420.40L303.60 420.40L303.70 420.40L303.80 420.40L303.90 420.40L304.00 420.40L304.10 420.40L304.20 420.40L304.30 420.40L304.40 420.40L304.50 420.40L304.60 420.40L304.70 420.40L304.80 420.40L304.90 420.40L305.00 420.40L305.10 420.40L305.20 420.40L305.30 420.40L305.40 420.40L305.50 420.40L305.60 420.40L305.70 420.40L305.80 420.40L305.90 420.40L306.00 420.40L306.10 420.40L306.20 420.40L306.30 420.40L306.40 420.40L306.50 420.40L306.60 420.40L306.70 420.40L306.80 420.40L306.90 420.40L307.00 420.40L307.10 420.40L307.20 420.40L307.30 420.40L307.40 420.40L307.50 420.40L307.60 420.40L307.70 420.40L307.80 420.40L307.90 420.40L308.00 420.40L308.10 420.40L308.20 420.40L308.30 420.40L308.40 420.40L308.50 420.40L308.60 420.40L308.70 420.40L308.80 420.40L308.90 420.40L309.00 420.40L309.10 420.40L309.20 420.40L309.30 420.40L309.40 420.40L309.50 420.40L309.60 420.40L309.70 420.40L309.80 420.40L309.90 420.40L310.00 420.40L310.10 420.40L310.20 420.40L310.30 420.40L310.40 420.40L310.50 420.40L310.60 420.40L310.70 420.40L310.80 420.40L310.90 420.40L311.00 420.40L311.10 420.40L311.20 420.40L311.30 420.40L311.40 420.40L311.50 420.40L311.60 420.40L311.70 420.40L311.80 420.40L311.90 420.40L312.00 420.40L312.10 420.40L312.20 420.40L312.30 420.40L312.40 420.40L312.50 420.40L312.60 420.40L312.70 420.40L312.80 420.40L312.90 420.40L313.00 420.40L313.10 420.40L313.20 420.40L313.30 420.40L313.40 420.40L313.50 420.40L313.60 420.40L313.70 420.40L313.80 420.40L313.90 420.40L314.00 420.40L314.10 420.40L314.20 420.40L314.30 420.40L314.40 420.40L314.50 420.40L314.60 420.40L314.70 420.40L314.80 420.40L314.90 420.40L315.00 420.40L315.10 420.40L315.20 420.40L315.30 420.40L315.40 420.40L315.50 420.40L315.60 420.40L315.70 420.40L315.80 420.40L315.90 420.40L316.00 420.40L316.10 420.40L316.20 420.40L316.30 420.40L316.40 420.40L316.50 420.40L316.60 420.40L316.70 420.40L316.80 420.40L316.90 420.40L317.00 420.40L317.10 420.40L317.20 420.40L317.30 420.40L317.40 420.40L317.50 420.40L317.60 420.40L317.70 420.40L317.80 420.40L317.90 420.40L318.00 420.40L318.10 420.40L318.20 420.40L318.30 420.40L318.40 420.40L318.50 420.40L318.60 420.40L318.70 420.40L318.80 420.40L318.90 420.40L319.00 420.40L319.10 420.40L319.20 420.40L319.30 420.40L319.40 420.40L319.50 420.40L319.60 420.40L319.70 420.40L319.80 420.40L319.90 420.40L320.00 420.40L320.10 420.40L320.20 420.40L320.30 420.40L320.40 420.40L320.50 420.40L320.60 420.40L320.70 420.40L320.80 420.40L320.90 420.40L321.00 420.40L321.10 420.40L321.20 420.40L321.30 420.40L321.40 420.40L321.50 420.40L321.60 420.40L321.70 420.40L321.80 420.40L321.90 420.40L322.00 420.40L322.10 420.40L322.20 420.40L322.30 420.40L322.40 420.40L322.50 420.40L322.60 420.40L322.70 420.40L322.80 420.40L322.90 420.40L323.00 420.40L323.10 420.40L323.20 420.40L323.30 420.40L323.40 420.40L323.50 420.40L323.60 420.40L323.70 420.40L323.80 420.40L323.90 420.40L324.00 420.40L324.10 420.40L324.20 420.40L324.30 420.40L324.40 420.40L324.50 420.40L324.60 420.40L324.70 420.40L324.80 420.40L324.90 420.40L325.00 420.40L325.10 420.40L325.20 420.40L325.30 420.40L325.40 420.40L325.50 420.40L325.60 420.40L325.70 420.40L325.80 420.40L325.90 420.40L326.00 420.40L326.10 420.40L326.20 420.40L326.30 420.40L326.40 420.40L326.50 420.40L326.60 420.40L326.70 420.40L326.80 420.40L326.90 420.40L327.00 420.40L327.10 420.40L327.20 420.40L327.30 420.40L327.40 420.40L327.50 420.40L327.60 420.40L327.70 420.40L327.80 420.40L327.90 420.40L328.00 420.40L328.10 420.40L328.20 420.40L328.30 420.40L328.40 420.40L328.50 420.40L328.60 420.40L328.70 420.40L328.80 420.40L328.90 420.40L329.00 420.40L329.10 420.40L329.20 420.40L329.30 420.40L329.40 420.40L329.50 420.40L329.60 420.40L329.70 420.40L329.80 420.40L329.90 420.40L330.00 420.40L330.10 420.40L330.20 420.40L330.30 420.40L330.40 420.40L330.50 420.40L330.60 420.40L330.70 420.40L330.80 420.40L330.90 420.40L331.00 420.40L331.10 420.40L331.20 420.40L331.30 420.40L331.40 420.40L331.50 420.40L331.60 420.40L331.70 420.40L331.80 420.40L331.90 420.40L332.00 420.40L332.10 420.40L332.20 420.40L332.30 420.40L332.40 420.40L332.50 420.40L332.60 420.40L332.70 420.40L332.80 420.40L332.90 420.40L333.00 420.40L333.10 420.40L333.20 420.40L333.30 420.40L333.40 420.40L333.50 420.40L333.60 420.40L333.70 420.40L333.80 420.40L333.90 420.40L334.00 420.40L334.10 420.40L334.20 420.40L334.30 420.40L334.40 420.40L334.50 420.40L334.60 420.40L334.70 420.40L334.80 420.40L334.90 420.40L335.00 420.40L335.10 420.40L335.20 420.40L335.30 420.40L335.40 420.40L335.50 420.40L335.60 420.40L335.70 420.40L335.80 420.40L335.90 420.40L336.00 420.40L336.10 420.40L336.20 420.40L336.30 420.40L336.40 420.40L336.50 420.40L336.60 420.40L336.70 420.40L336.80 420.40L336.90 420.40L337.00 420.40L337.10 420.40L337.20 420.40L337.30 420.40L337.40 420.40L337.50 420.40L337.60 420.40L337.70 420.40L337.80 420.40L337.90 420.40L338.00 420.40L338.10 420.40L338.20 420.40L338.30 420.40L338.40 420.40L338.50 420.40L338.60 420.40L338.70 420.40L338.80 420.40L338.90 420.40L339.00 420.40L339.10 420.40L339.20 420.40L339.30 420.40L339.40 420.40L339.50 420.40L339.60 420.40L339.70 420.40L339.80 420.40L339.90 420.40L340.00 420.40L340.10 420.40L340.20 420.40L340.30 420.40L340.40 420.40L340.50 420.40L340.60 420.40L340.70 420.40L340.80 420.40L340.90 420.40L341.00 420.40L341.10 420.40L341.20 420.40L341.30 420.40L341.40 420.40L341.50 420.40L341.60 420.40L341.70 420.40L341.80 420.40L341.90 420.40L342.00 420.40L342.10 420.40L342.20 420.40L342.30 420.40L342.40 420.40L342.50 420.40L342.60 420.40L342.70 420.40L342.80 420.40L342.90 420.40L343.00 420.40L343.10 420.40L343.20 420.40L343.30 420.40L343.40 420.40L343.50 420.40L343.60 420.40L343.70 420.40L343.80 420.40L343.90 420.40L344.00 420.40L344.10 420.40L344.20 420.40L344.30 420.40L344.40 420.40L344.50 420.40L344.60 420.40L344.70 420.40L344.80 420.40L344.90 420.40L345.00 420.40L345.10 420.40L345.20 420.40L345.30 420.40L345.40 420.40L345.50 420.40L345.60 420.40L345.70 420.40L345.80 420.40L345.90 420.40L346.00 420.40L346.10 420.40L346.20 420.40L346.30 420.40L346.40 420.40L346.50 420.40L346.60 420.40L346.70 420.40L346.80 420.40L346.90 420.40L347.00 420.40L347.10 420.40L347.20 420.40L347.30 420.40L347.40 420.40" fill="none" stroke="#ea3035" stroke-width="2.35" stroke-linejoin="round" stroke-linecap="butt" clip-path="url(#cc)"/>
<path d="M100.20 420.40L208.00 420.40L208.10 420.40L208.20 420.40L208.30 420.40L208.40 420.40L208.50 420.39L208.60 420.39L208.70 420.39L208.80 420.38L208.90 420.38L209.00 420.37L209.10 420.37L209.20 420.36L209.30 420.36L209.40 420.35L209.50 420.34L209.60 420.34L209.70 420.33L209.80 420.32L209.90 420.31L210.00 420.30L210.10 420.29L210.20 420.28L210.30 420.27L210.40 420.26L210.50 420.25L210.60 420.24L210.70 420.23L210.80 420.21L210.90 420.20L210.90 420.20L211.00 420.18L211.10 420.15L211.20 420.12L211.30 420.07L211.40 420.01L211.50 419.94L211.60 419.86L211.70 419.78L211.80 419.68L211.90 419.58L212.00 419.47L212.10 419.34L212.20 419.21L212.30 419.07L212.40 418.93L212.50 418.77L212.60 418.61L212.70 418.43L212.80 418.25L212.90 418.07L213.00 417.87L213.10 417.67L213.20 417.46L213.30 417.24L213.40 417.02L213.50 416.79L213.60 416.55L213.70 416.31L213.80 416.06L213.90 415.80L213.90 415.80L214.00 415.50L214.10 415.14L214.20 414.70L214.30 414.20L214.40 413.64L214.50 413.01L214.60 412.33L214.70 411.60L214.80 410.82L214.90 409.99L215.00 409.12L215.10 408.21L215.20 407.26L215.30 406.27L215.40 405.25L215.50 404.21L215.60 403.14L215.70 402.04L215.80 400.93L215.90 399.80L215.90 399.80L216.00 398.58L216.10 397.20L216.20 395.67L216.30 394.02L216.40 392.25L216.50 390.39L216.60 388.45L216.70 386.44L216.80 384.38L216.90 382.29L217.00 380.18L217.10 378.07L217.20 375.97L217.30 373.89L217.40 371.87L217.50 369.90L217.50 369.90L217.60 367.98L217.70 366.07L217.80 364.16L217.90 362.25L218.00 360.32L218.10 358.35L218.20 356.35L218.30 354.30L218.40 352.19L218.50 350.00L218.50 350.00L218.60 347.85L218.70 345.78L218.80 343.70L218.90 341.52L219.00 339.15L219.10 336.50L219.20 333.48L219.30 330.00L219.30 330.00L219.40 325.18L219.50 318.61L219.60 310.87L219.70 302.55L219.80 294.24L219.90 286.53L220.00 280.00L220.00 280.00L220.10 274.42L220.20 269.17L220.30 264.27L220.40 259.74L220.50 255.60L220.50 255.60L220.70 258.79L220.90 262.26L221.10 266.01L221.20 268.00L221.30 270.16L221.50 275.13L221.70 280.64L221.90 286.28L222.10 291.65L222.30 296.36L222.50 300.00L222.50 300.00L222.70 303.00L222.90 305.97L223.10 308.74L223.30 311.16L223.50 313.08L223.70 314.34L223.90 314.80L223.90 314.80L224.10 314.44L224.30 313.46L224.50 312.00L224.70 310.18L224.90 308.15L225.10 306.05L225.30 304.00L225.30 304.00L225.50 301.82L225.70 299.26L225.90 296.40L226.10 293.33L226.30 290.11L226.50 286.82L226.70 283.54L226.90 280.34L227.10 277.30L227.30 274.49L227.50 272.00L227.50 272.00L227.70 269.68L227.90 267.36L228.10 265.07L228.30 262.82L228.50 260.65L228.70 258.58L228.90 256.63L229.10 254.82L229.30 253.19L229.50 251.75L229.70 250.52L229.80 250.00L229.90 249.51L230.10 248.53L230.30 247.57L230.50 246.66L230.70 245.80L230.90 245.03L231.10 244.35L231.30 243.79L231.50 243.36L231.70 243.09L231.90 243.00L231.90 243.00L232.10 243.09L232.30 243.34L232.50 243.74L232.70 244.26L232.90 244.87L233.10 245.56L233.30 246.31L233.50 247.08L233.70 247.86L233.90 248.63L234.00 249.00L234.10 249.39L234.30 250.27L234.50 251.29L234.70 252.40L234.90 253.58L235.10 254.80L235.30 256.04L235.50 257.25L235.70 258.41L235.90 259.50L236.10 260.48L236.30 261.32L236.50 262.00L236.50 262.00L236.70 262.59L236.90 263.18L237.10 263.75L237.30 264.31L237.50 264.84L237.70 265.33L237.90 265.77L238.10 266.15L238.30 266.46L238.50 266.70L238.70 266.85L238.90 266.90L238.90 266.90L239.10 266.85L239.30 266.72L239.50 266.50L239.70 266.21L239.90 265.87L240.10 265.47L240.30 265.02L240.50 264.55L240.70 264.05L240.90 263.54L241.10 263.02L241.30 262.50L241.50 262.00L241.50 262.00L241.70 261.46L241.90 260.85L242.10 260.17L242.30 259.43L242.50 258.64L242.70 257.81L242.90 256.96L243.10 256.09L243.30 255.22L243.50 254.35L243.70 253.49L243.90 252.66L244.10 251.86L244.30 251.11L244.50 250.42L244.70 249.79L244.90 249.24L245.00 249.00L245.10 248.77L245.30 248.30L245.50 247.83L245.70 247.36L245.90 246.90L246.10 246.43L246.30 245.98L246.50 245.54L246.70 245.10L246.90 244.69L247.10 244.29L247.30 243.90L247.50 243.54L247.70 243.20L247.90 242.89L248.10 242.61L248.30 242.35L248.50 242.13L248.70 241.95L248.90 241.80L249.10 241.69L249.30 241.62L249.50 241.60L249.50 241.60L249.70 241.62L249.90 241.67L250.10 241.76L250.30 241.88L250.50 242.02L250.70 242.19L250.90 242.39L251.10 242.61L251.30 242.85L251.50 243.11L251.70 243.38L251.90 243.67L252.10 243.97L252.30 244.28L252.50 244.60L252.70 244.92L252.90 245.24L253.10 245.57L253.30 245.90L253.50 246.22L253.70 246.54L253.90 246.85L254.00 247.00L254.10 247.16L254.30 247.49L254.50 247.86L254.70 248.26L254.90 248.69L255.10 249.13L255.30 249.59L255.50 250.05L255.70 250.53L255.90 251.00L256.10 251.48L256.30 251.94L256.50 252.40L256.70 252.84L256.90 253.26L257.10 253.65L257.30 254.01L257.50 254.35L257.70 254.64L257.90 254.89L258.00 255.00L258.10 255.10L258.30 255.31L258.50 255.51L258.70 255.71L258.90 255.91L259.10 256.10L259.30 256.29L259.50 256.48L259.70 256.65L259.90 256.82L260.10 256.99L260.30 257.14L260.50 257.28L260.70 257.42L260.90 257.54L261.10 257.65L261.30 257.74L261.50 257.82L261.70 257.89L261.90 257.94L262.10 257.98L262.30 258.00L262.40 258.00L262.50 258.00L262.70 257.98L262.90 257.94L263.10 257.89L263.30 257.82L263.50 257.74L263.70 257.65L263.90 257.54L264.10 257.42L264.30 257.30L264.50 257.16L264.70 257.02L264.90 256.87L265.10 256.72L265.30 256.56L265.50 256.40L265.70 256.24L265.90 256.08L266.00 256.00L266.10 255.92L266.30 255.74L266.50 255.54L266.70 255.33L266.90 255.10L267.10 254.86L267.30 254.60L267.50 254.33L267.70 254.05L267.90 253.75L268.10 253.44L268.30 253.12L268.50 252.79L268.70 252.44L268.90 252.09L269.10 251.73L269.30 251.36L269.50 250.98L269.70 250.59L269.90 250.20L270.00 250.00L270.10 249.80L270.18 249.24L270.52 248.67L270.86 248.08L271.20 247.49L271.54 246.90L271.88 246.30L272.22 245.70L272.55 245.09L272.89 244.48L273.23 243.87L273.57 243.25L273.91 242.63L274.25 242.01L274.58 241.38L274.92 240.76L275.26 240.13L275.60 239.50L275.60 239.50L276.09 240.56L276.59 241.61L277.08 242.66L277.58 243.71L278.07 244.75L278.57 245.79L279.06 246.83L279.56 247.86L280.05 248.89L280.55 249.92L281.04 250.94L281.54 251.95L282.03 252.96L282.53 253.96L283.02 254.96L283.52 255.95L284.01 256.92L284.51 257.89L285.00 258.85L285.50 259.80L285.99 260.73L286.49 261.64L286.98 262.54L287.48 263.42L287.97 264.28L288.47 265.12L288.96 265.92L289.46 266.69L289.95 267.43L290.45 268.12L290.94 268.77L291.44 269.37L291.93 269.90L292.43 270.37L292.92 270.77L293.42 271.08L293.91 271.31L294.41 271.45L294.90 271.50L295.29 271.45L295.69 271.31L296.08 271.08L296.48 270.77L296.87 270.37L297.27 269.90L297.66 269.37L298.06 268.77L298.45 268.12L298.85 267.43L299.24 266.69L299.64 265.92L300.03 265.12L300.43 264.28L300.82 263.42L301.22 262.54L301.61 261.64L302.01 260.73L302.40 259.80L302.80 258.85L303.19 257.89L303.59 256.92L303.98 255.95L304.38 254.96L304.77 253.96L305.17 252.96L305.56 251.95L305.96 250.94L306.35 249.92L306.75 248.89L307.14 247.86L307.54 246.83L307.93 245.79L308.33 244.75L308.72 243.71L309.12 242.66L309.51 241.61L309.91 240.56L310.30 239.50L310.30 239.50L310.88 241.21L311.45 242.93L312.03 244.63L312.61 246.33L313.18 248.03L313.76 249.72L314.34 251.41L314.92 253.09L315.49 254.76L316.07 256.43L316.65 258.09L317.22 259.73L317.80 261.37L318.38 263.00L318.95 264.62L319.53 266.22L320.11 267.81L320.68 269.39L321.26 270.94L321.84 272.48L322.42 273.99L322.99 275.48L323.57 276.95L324.15 278.38L324.72 279.77L325.30 281.12L325.88 282.43L326.45 283.69L327.03 284.89L327.61 286.01L328.18 287.07L328.76 288.03L329.34 288.90L329.92 289.67L330.49 290.31L331.07 290.82L331.65 291.20L332.22 291.42L332.80 291.50L333.33 291.42L333.86 291.20L334.39 290.82L334.92 290.31L335.45 289.67L335.98 288.90L336.52 288.03L337.05 287.07L337.58 286.01L338.11 284.89L338.64 283.69L339.17 282.43L339.70 281.12L340.23 279.77L340.76 278.38L341.29 276.95L341.82 275.48L342.35 273.99L342.88 272.48L343.42 270.94L343.95 269.39L344.48 267.81L345.01 266.22L345.54 264.62L346.07 263.00L346.60 261.37L347.13 259.73L347.66 258.09L348.19 256.43L348.72 254.76L349.25 253.09L349.78 251.41L350.32 249.72L350.85 248.03L351.38 246.33L351.91 244.63L352.44 242.93L352.97 241.21L353.50 239.50" fill="none" stroke="#3f77ec" stroke-width="2.4" stroke-linejoin="round" stroke-linecap="butt" clip-path="url(#cc)"/>
<path d="M431.30 105.70L431.60 104.72L431.90 103.74L432.20 102.74L432.50 101.72L432.80 100.69L433.00 100.00L433.10 99.64L433.40 98.51L433.70 97.30L434.00 96.05L434.30 94.78L434.60 93.54L434.90 92.36L435.20 91.26L435.50 90.28L435.80 89.45L436.00 89.00L436.10 88.80L436.40 88.19L436.70 87.59L437.00 87.01L437.30 86.47L437.60 85.98L437.90 85.56L438.20 85.22L438.50 84.97L438.80 84.83L439.00 84.80L439.10 84.81L439.40 84.89L439.70 85.06L440.00 85.30L440.30 85.60L440.60 85.93L440.90 86.29L441.20 86.65L441.50 87.00L441.50 87.00L441.80 87.42L442.10 87.96L442.40 88.59L442.70 89.26L443.00 89.92L443.30 90.55L443.60 91.09L443.90 91.50L444.20 91.75L444.40 91.80L444.50 91.78L444.80 91.56L445.10 91.12L445.40 90.49L445.70 89.73L446.00 88.88L446.30 87.99L446.60 87.10L446.90 86.26L447.00 86.00L447.20 85.46L447.50 84.57L447.80 83.60L448.10 82.58L448.40 81.54L448.70 80.52L449.00 79.55L449.30 78.64L449.60 77.85L449.90 77.18L450.00 77.00L450.20 76.65L450.50 76.12L450.80 75.59L451.10 75.10L451.40 74.64L451.70 74.23L452.00 73.89L452.30 73.63L452.60 73.46L452.90 73.40L452.90 73.40L453.20 73.48L453.50 73.69L453.80 74.02L454.10 74.44L454.40 74.93L454.70 75.46L455.00 76.00L455.00 76.00L455.30 76.76L455.60 77.88L455.90 79.25L456.20 80.76L456.50 82.31L456.80 83.79L457.10 85.08L457.40 86.08L457.70 86.68L457.90 86.80L458.00 86.77L458.30 86.35L458.60 85.52L458.90 84.42L459.20 83.17L459.50 81.88L459.80 80.69L460.00 80.00L460.10 79.68L460.40 78.70L460.70 77.69L461.00 76.64L461.30 75.59L461.60 74.54L461.90 73.51L462.20 72.52L462.50 71.57L462.80 70.68L463.10 69.86L463.40 69.13L463.70 68.51L464.00 68.00L464.00 68.00L464.30 67.56L464.60 67.12L464.90 66.69L465.20 66.28L465.50 65.88L465.80 65.51L466.10 65.16L466.40 64.84L466.70 64.56L467.00 64.31L467.30 64.11L467.60 63.96L467.90 63.85L468.20 63.80L468.30 63.80L468.50 63.84L468.80 64.01L469.10 64.32L469.40 64.74L469.70 65.25L470.00 65.83L470.30 66.45L470.60 67.11L470.90 67.78L471.00 68.00L471.20 68.52L471.50 69.57L471.80 70.88L472.10 72.39L472.40 74.03L472.70 75.74L473.00 77.46L473.30 79.11L473.60 80.64L473.90 81.97L474.20 83.05L474.50 83.80L474.80 84.17L474.90 84.20L475.10 84.13L475.40 83.80L475.70 83.23L476.00 82.47L476.30 81.57L476.60 80.57L476.90 79.52L477.20 78.47L477.50 77.46L477.80 76.54L478.00 76.00L478.10 75.75L478.40 74.97L478.70 74.18L479.00 73.37L479.30 72.56L479.60 71.74L479.90 70.93L480.20 70.13L480.50 69.34L480.80 68.57L481.10 67.82L481.40 67.11L481.70 66.43L482.00 65.78L482.30 65.19L482.60 64.64L482.90 64.15L483.00 64.00L483.20 63.70L483.50 63.26L483.80 62.81L484.10 62.36L484.40 61.92L484.70 61.49L485.00 61.08L485.30 60.69L485.60 60.33L485.90 60.00L486.20 59.70L486.50 59.44L486.80 59.23L487.10 59.07L487.40 58.96L487.70 58.90L487.80 58.90L488.00 58.92L488.30 59.05L488.60 59.26L488.90 59.56L489.20 59.93L489.50 60.36L489.80 60.83L490.10 61.35L490.40 61.89L490.70 62.44L491.00 63.00L491.00 63.00L491.30 63.70L491.60 64.66L491.90 65.82L492.20 67.15L492.50 68.58L492.80 70.07L493.10 71.57L493.40 73.03L493.70 74.41L494.00 75.64L494.30 76.69L494.60 77.49L494.90 78.02L495.20 78.20L495.20 78.20L495.50 78.12L495.80 77.88L496.10 77.50L496.40 77.00L496.70 76.39L497.00 75.70L497.30 74.95L497.60 74.14L497.90 73.30L498.20 72.44L498.50 71.59L498.80 70.76L499.10 69.97L499.40 69.23L499.70 68.57L500.00 68.00L500.00 68.00L500.30 67.48L500.60 66.97L500.90 66.46L501.20 65.95L501.50 65.45L501.80 64.95L502.10 64.46L502.40 63.97L502.70 63.50L503.00 63.03L503.30 62.57L503.60 62.13L503.90 61.69L504.20 61.27L504.50 60.85L504.80 60.46L505.10 60.07L505.40 59.70L505.70 59.34L506.00 59.00L506.30 58.68L506.60 58.38L506.90 58.09L507.00 58.00L507.20 57.82L507.50 57.54L507.80 57.26L508.10 56.98L508.40 56.70L508.70 56.43L509.00 56.16L509.30 55.90L509.60 55.65L509.90 55.41L510.20 55.20L510.50 54.99L510.80 54.81L511.10 54.66L511.40 54.53L511.70 54.42L512.00 54.35L512.30 54.31L512.50 54.30L512.60 54.35L512.90 55.07L513.20 56.46L513.50 58.31L513.80 60.39L514.10 62.51L514.40 64.44L514.50 65.00L514.70 66.14L515.00 68.03L515.30 70.09L515.60 72.24L515.90 74.40L516.20 76.49L516.50 78.43L516.80 80.16L517.10 81.60L517.40 82.66L517.70 83.28L517.90 83.40L518.00 83.39L518.30 83.21L518.60 82.84L518.90 82.30L519.20 81.62L519.50 80.82L519.80 79.93L520.10 78.98L520.40 77.98L520.70 76.97L521.00 75.96L521.30 74.99L521.60 74.08L521.90 73.25L522.00 73.00L522.20 72.51L522.50 71.76L522.80 71.01L523.10 70.25L523.40 69.49L523.70 68.72L524.00 67.96L524.30 67.19L524.60 66.42L524.90 65.66L525.20 64.90L525.50 64.14L525.80 63.39L526.10 62.64L526.40 61.90L526.70 61.17L527.00 60.45L527.30 59.74L527.60 59.04L527.90 58.36L528.20 57.68L528.50 57.03L528.80 56.38L529.10 55.76L529.40 55.15L529.70 54.57L530.00 54.00L530.00 54.00L530.30 53.43L530.60 52.84L530.90 52.24L531.20 51.62L531.50 51.00L531.80 50.38L532.10 49.76L532.40 49.15L532.70 48.55L533.00 47.97L533.30 47.42L533.60 46.89L533.90 46.40L534.20 45.95L534.50 45.54L534.80 45.18L535.10 44.88L535.40 44.63L535.70 44.45L536.00 44.34L536.30 44.30L536.30 44.30L536.60 44.54L536.90 45.19L537.20 46.19L537.50 47.45L537.80 48.90L538.10 50.45L538.40 52.04L538.70 53.58L539.00 55.00L539.00 55.00L539.30 56.45L539.60 58.10L539.90 59.92L540.20 61.87L540.50 63.89L540.80 65.96L541.10 68.03L541.40 70.06L541.70 72.00L542.00 73.82L542.30 75.48L542.60 76.92L542.90 78.12L543.20 79.03L543.50 79.60L543.80 79.80L543.80 79.80L544.10 79.73L544.40 79.52L544.70 79.18L545.00 78.75L545.30 78.22L545.60 77.62L545.90 76.96L546.20 76.25L546.50 75.52L546.80 74.78L547.10 74.04L547.40 73.32L547.70 72.63L548.00 72.00L548.00 72.00L548.30 71.38L548.60 70.75L548.90 70.10L549.20 69.43L549.50 68.74L549.80 68.05L550.10 67.34L550.40 66.62L550.70 65.90L551.00 65.17L551.30 64.44L551.60 63.71L551.90 62.98L552.20 62.25L552.50 61.52L552.80 60.80L553.10 60.09L553.40 59.39L553.70 58.70L554.00 58.03L554.30 57.36L554.60 56.72L554.90 56.10L555.20 55.49L555.50 54.91L555.80 54.36L556.00 54.00L556.10 53.82L556.40 53.28L556.70 52.73L557.00 52.16L557.30 51.58L557.60 50.99L557.90 50.41L558.20 49.82L558.50 49.25L558.80 48.68L559.10 48.13L559.40 47.59L559.70 47.08L560.00 46.59L560.30 46.13L560.60 45.70L560.90 45.31L561.20 44.96L561.50 44.65L561.80 44.39L562.10 44.18L562.40 44.03L562.70 43.93L563.00 43.90L563.00 43.90L563.30 43.99L563.60 44.26L563.90 44.68L564.20 45.24L564.50 45.89L564.80 46.64L565.10 47.44L565.40 48.28L565.70 49.14L566.00 50.00L566.00 50.00L566.30 51.00L566.60 52.27L566.90 53.79L567.20 55.52L567.50 57.43L567.80 59.49L568.10 61.65L568.40 63.90L568.70 66.18L569.00 68.48L569.30 70.75L569.60 72.97L569.90 75.09L570.20 77.09L570.50 78.94L570.80 80.59L571.10 82.01L571.40 83.18L571.70 84.06L572.00 84.61L572.30 84.80L572.30 84.80L572.60 84.70L572.90 84.41L573.20 83.95L573.50 83.35L573.80 82.61L574.10 81.77L574.40 80.84L574.70 79.84L575.00 78.79L575.30 77.71L575.60 76.62L575.90 75.54L576.20 74.49L576.50 73.50L576.80 72.57L577.00 72.00L577.10 71.73L577.40 70.89L577.70 70.03L578.00 69.16L578.30 68.28L578.60 67.39L578.90 66.48L579.20 65.58L579.50 64.66L579.80 63.75L580.10 62.84L580.40 61.93L580.70 61.02L581.00 60.12L581.30 59.24L581.60 58.36L581.90 57.50L582.20 56.65L582.50 55.83L582.80 55.03L583.10 54.25L583.40 53.49L583.70 52.76L584.00 52.07L584.30 51.41L584.60 50.78L584.90 50.19L585.00 50.00L585.20 49.63L585.50 49.06L585.80 48.48L586.10 47.90L586.40 47.32L586.70 46.73L587.00 46.15L587.30 45.58L587.60 45.01L587.90 44.45L588.20 43.91L588.50 43.38L588.80 42.86L589.10 42.37L589.40 41.90L589.70 41.46L590.00 41.04L590.30 40.65L590.60 40.29L590.90 39.97L591.20 39.69L591.50 39.44L591.80 39.24L592.10 39.08L592.40 38.97L592.70 38.91L592.90 38.90L593.00 38.91L593.30 39.00L593.60 39.21L593.90 39.52L594.20 39.93L594.50 40.42L594.80 40.99L595.10 41.64L595.40 42.35L595.70 43.11L596.00 43.92L596.30 44.78L596.60 45.66L596.90 46.57L597.20 47.50L597.50 48.44L597.80 49.38L598.00 50.00L598.10 50.33L598.40 51.50L598.70 52.93L599.00 54.59L599.30 56.45L599.60 58.48L599.90 60.65L600.20 62.93L600.50 65.29L600.80 67.70L601.10 70.12L601.40 72.54L601.70 74.91L602.00 77.22L602.30 79.42L602.60 81.49L602.90 83.40L603.20 85.12L603.50 86.62L603.80 87.86L604.10 88.82L604.40 89.47L604.70 89.78L604.80 89.80L605.00 89.76L605.30 89.58L605.60 89.25L605.90 88.80L606.20 88.23L606.50 87.56L606.80 86.80L607.10 85.97L607.40 85.08L607.70 84.15L608.00 83.18L608.30 82.20L608.60 81.22L608.90 80.25L609.20 79.30L609.50 78.39L609.80 77.53L610.00 77.00L610.10 76.74L610.40 75.95L610.70 75.15L611.00 74.33L611.30 73.50L611.60 72.67L611.90 71.82L612.20 70.96L612.50 70.10L612.80 69.24L613.10 68.37L613.40 67.50L613.70 66.64L614.00 65.77L614.30 64.90L614.60 64.04L614.90 63.19L615.20 62.34L615.50 61.50L615.80 60.67L616.10 59.85L616.40 59.04L616.70 58.24L617.00 57.47L617.30 56.70L617.60 55.96L617.90 55.24L618.00 55.00L618.20 54.52L618.50 53.79L618.80 53.03L619.10 52.26L619.40 51.47L619.70 50.68L620.00 49.89L620.30 49.10L620.60 48.32L620.90 47.55L621.20 46.79L621.50 46.05L621.80 45.34L622.10 44.66L622.40 44.01L622.70 43.40L623.00 42.84L623.30 42.32L623.60 41.85L623.90 41.44L624.20 41.10L624.50 40.81L624.80 40.60L625.00 40.50L625.10 40.46L625.40 40.34L625.70 40.22L626.00 40.11L626.30 40.01L626.60 39.91L626.90 39.82L627.20 39.74L627.50 39.67L627.80 39.61L628.10 39.56L628.40 39.53L628.70 39.51L629.00 39.50L629.00 39.50L629.30 39.60L629.60 39.88L629.90 40.32L630.20 40.91L630.50 41.63L630.80 42.46L631.10 43.37L631.40 44.35L631.70 45.39L632.00 46.45L632.30 47.53L632.60 48.61L632.90 49.66L633.00 50.00L633.20 50.73L633.50 52.02L633.80 53.52L634.10 55.19L634.40 57.00L634.70 58.91L635.00 60.91L635.30 62.95L635.60 65.01L635.90 67.06L636.20 69.06L636.50 70.98L636.80 72.79L637.10 74.46L637.40 75.96L637.70 77.26L638.00 78.33L638.30 79.12L638.60 79.63L638.90 79.80L638.90 79.80L639.20 79.51L639.50 78.72L639.80 77.52L640.10 76.02L640.40 74.31L640.70 72.50L641.00 70.70L641.30 69.00L641.60 67.50L641.90 66.31L642.00 66.00L642.20 65.44L642.50 64.63L642.80 63.88L643.10 63.16L643.40 62.48L643.70 61.84L644.00 61.23L644.30 60.65L644.60 60.10L644.90 59.57L645.20 59.05L645.50 58.55L645.80 58.06L645.90 57.90L646.10 57.58L646.40 57.12L646.70 56.68L647.00 56.25L647.30 55.84L647.60 55.44L647.90 55.05L648.20 54.67L648.50 54.31L648.80 53.95L649.10 53.59L649.40 53.25L649.70 52.91L650.00 52.57L650.30 52.23L650.60 51.90L650.90 51.56L651.20 51.22L651.50 50.88L651.80 50.54L652.10 50.19L652.40 49.83L652.70 49.46L653.00 49.09L653.30 48.71L653.60 48.31L653.90 47.90L653.90 47.90L654.20 47.46L654.50 46.99L654.80 46.49L655.10 45.96L655.40 45.41L655.70 44.84L656.00 44.27L656.30 43.69L656.60 43.12L656.90 42.55L657.20 41.99L657.50 41.46L657.80 40.95L658.10 40.47L658.40 40.03L658.70 39.63L659.00 39.27L659.30 38.97L659.60 38.73L659.90 38.54L660.00 38.50L660.20 38.42L660.50 38.30L660.80 38.19L661.10 38.08L661.40 37.98L661.70 37.88L662.00 37.80L662.30 37.72L662.60 37.65L662.90 37.60L663.20 37.55L663.50 37.52L663.80 37.50L664.00 37.50L664.10 37.50L664.40 37.57L664.70 37.70L665.00 37.89L665.30 38.14L665.60 38.45L665.90 38.79L666.20 39.18L666.50 39.60L666.80 40.05L667.10 40.52L667.40 41.01L667.70 41.50L668.00 42.00L668.00 42.00L668.30 42.54L668.60 43.15L668.90 43.83L669.20 44.58L669.50 45.41L669.80 46.30L670.10 47.26L670.40 48.28L670.70 49.37L671.00 50.53L671.30 51.74L671.60 53.02L671.80 53.90L671.90 54.37L672.20 56.02L672.50 58.00L672.80 60.25L673.10 62.72L673.40 65.35L673.70 68.09L674.00 70.88L674.30 73.68L674.60 76.42L674.90 79.06L675.20 81.54L675.50 83.80L675.80 85.80L675.80 85.80L676.10 87.62L676.40 89.40L676.70 91.12L677.00 92.79L677.30 94.40L677.60 95.94L677.90 97.42L678.20 98.84L678.50 100.18L678.80 101.44L679.10 102.62L679.20 103.00" fill="none" stroke="#4fb562" stroke-width="1.2" stroke-linejoin="round" stroke-linecap="butt" clip-path="url(#cb)"/>
<path d="M431.50 180.00L431.80 179.63L432.10 178.62L432.40 177.06L432.70 175.09L433.00 172.81L433.10 172.00L433.30 169.83L433.60 164.84L433.90 158.27L434.20 150.69L434.50 142.67L434.60 140.00L434.80 134.04L435.10 123.35L435.40 111.87L435.70 101.08L435.90 95.00L436.00 92.16L436.30 83.07L436.60 74.99L436.90 70.36L437.00 70.00L437.20 70.34L437.50 71.89L437.80 74.28L438.10 77.07L438.20 78.00L438.40 80.13L438.70 84.22L439.00 89.16L439.30 94.66L439.60 100.45L439.90 106.26L440.10 110.00L440.20 111.87L440.50 117.93L440.80 124.41L441.10 131.02L441.40 137.44L441.70 143.38L442.00 148.52L442.10 150.00L442.30 152.83L442.60 156.98L442.90 160.91L443.20 164.49L443.50 167.62L443.80 170.16L444.10 172.00L444.10 172.00L444.40 173.40L444.70 174.71L445.00 175.91L445.30 176.97L445.60 177.88L445.90 178.60L446.20 179.13L446.50 179.45L446.60 179.50L446.80 179.58L447.10 179.69L447.40 179.79L447.70 179.88L448.00 179.97L448.30 180.05L448.60 180.12L448.90 180.19L449.20 180.25L449.50 180.30L449.80 180.35L450.10 180.39L450.40 180.42L450.70 180.45L451.00 180.47L451.30 180.48L451.60 180.50L451.90 180.50L452.00 180.50L452.20 180.47L452.50 180.29L452.80 179.98L453.10 179.54L453.40 178.98L453.70 178.30L454.00 177.52L454.30 176.64L454.50 176.00L454.60 175.62L454.90 173.86L455.20 171.20L455.50 167.68L455.80 163.33L456.00 160.00L456.10 157.82L456.40 147.24L456.70 133.42L457.00 120.00L457.00 120.00L457.30 106.89L457.60 93.47L457.90 82.58L458.00 80.00L458.20 75.49L458.50 69.50L458.80 66.07L458.90 65.80L459.10 66.53L459.40 69.82L459.70 74.70L460.00 80.00L460.00 80.00L460.30 86.34L460.60 94.46L460.90 103.41L461.20 112.24L461.50 120.00L461.50 120.00L461.80 127.02L462.10 134.10L462.40 140.97L462.70 147.35L463.00 152.99L463.30 157.61L463.50 160.00L463.60 161.02L463.90 163.89L464.20 166.47L464.50 168.74L464.80 170.70L465.10 172.33L465.40 173.64L465.50 174.00L465.70 174.67L466.00 175.63L466.30 176.51L466.60 177.31L466.90 178.00L467.20 178.59L467.50 179.05L467.80 179.37L468.00 179.50L468.10 179.55L468.40 179.68L468.70 179.81L469.00 179.93L469.30 180.03L469.60 180.13L469.90 180.21L470.20 180.29L470.50 180.35L470.80 180.40L471.10 180.45L471.40 180.48L471.70 180.49L472.00 180.50L472.00 180.50L472.30 180.49L472.60 180.48L472.90 180.45L473.20 180.41L473.50 180.37L473.80 180.31L474.10 180.24L474.40 180.17L474.70 180.09L475.00 180.00L475.30 179.90L475.60 179.79L475.90 179.68L476.20 179.56L476.50 179.44L476.80 179.31L477.10 179.17L477.40 179.03L477.70 178.89L478.00 178.74L478.30 178.59L478.60 178.43L478.90 178.27L479.20 178.11L479.40 178.00L479.50 177.94L479.80 177.77L480.10 177.57L480.40 177.36L480.70 177.13L481.00 176.87L481.30 176.60L481.60 176.30L481.90 175.97L482.20 175.61L482.50 175.23L482.80 174.81L483.10 174.36L483.40 173.88L483.70 173.36L484.00 172.80L484.30 172.21L484.40 172.00L484.60 171.55L484.90 170.73L485.20 169.73L485.50 168.53L485.80 167.11L486.10 165.45L486.40 163.53L486.70 161.33L487.00 158.83L487.30 156.01L487.40 155.00L487.60 151.89L487.90 144.05L488.20 133.85L488.50 122.91L488.80 112.87L488.90 110.00L489.10 104.07L489.40 94.25L489.70 85.22L490.00 79.15L490.20 77.80L490.30 77.90L490.60 79.29L490.90 81.99L491.20 85.57L491.50 89.61L491.80 93.70L491.90 95.00L492.10 97.75L492.40 102.53L492.70 107.88L493.00 113.55L493.30 119.29L493.60 124.86L493.90 130.00L493.90 130.00L494.20 135.01L494.50 140.18L494.80 145.31L495.10 150.15L495.40 154.49L495.70 158.11L495.90 160.00L496.00 160.82L496.30 163.20L496.60 165.41L496.90 167.44L497.20 169.26L497.50 170.86L497.80 172.19L498.10 173.25L498.40 174.00L498.40 174.00L498.70 174.57L499.00 175.09L499.30 175.57L499.60 176.01L499.90 176.41L500.20 176.77L500.50 177.10L500.80 177.40L501.10 177.66L501.40 177.89L501.70 178.10L502.00 178.29L502.30 178.45L502.40 178.50L502.60 178.59L502.90 178.73L503.20 178.85L503.50 178.97L503.80 179.07L504.10 179.17L504.40 179.27L504.70 179.35L505.00 179.44L505.30 179.51L505.60 179.59L505.90 179.66L506.20 179.73L506.50 179.80L506.80 179.86L507.10 179.93L507.40 180.00L507.40 180.00L507.70 180.07L508.00 180.15L508.30 180.23L508.60 180.30L508.90 180.37L509.20 180.43L509.50 180.47L509.80 180.49L510.00 180.50L510.10 180.50L510.40 180.48L510.70 180.44L511.00 180.38L511.30 180.30L511.60 180.20L511.90 180.09L512.20 179.96L512.50 179.82L512.80 179.67L513.10 179.51L513.40 179.34L513.70 179.17L514.00 178.99L514.30 178.81L514.60 178.62L514.80 178.50L514.90 178.44L515.20 178.24L515.50 178.03L515.80 177.80L516.10 177.55L516.40 177.28L516.70 176.98L517.00 176.66L517.30 176.30L517.60 175.92L517.90 175.50L518.20 175.04L518.50 174.54L518.80 174.00L518.80 174.00L519.10 173.31L519.40 172.39L519.70 171.28L520.00 170.00L520.30 168.58L520.60 167.06L520.80 166.00L520.90 165.45L521.20 163.62L521.50 161.53L521.80 159.22L522.10 156.71L522.40 154.02L522.70 151.19L523.00 148.24L523.30 145.20L523.60 142.09L523.80 140.00L523.90 138.93L524.20 135.56L524.50 131.94L524.80 128.11L525.10 124.12L525.40 119.99L525.70 115.76L526.00 111.47L526.30 107.15L526.60 102.85L526.80 100.00L526.90 98.57L527.20 94.12L527.50 89.53L527.80 84.87L528.10 80.23L528.40 75.70L528.70 71.38L528.80 70.00L529.00 67.26L529.30 63.12L529.60 59.04L529.90 55.09L530.20 51.38L530.50 47.99L530.80 45.00L530.80 45.00L531.10 42.04L531.40 39.12L531.70 36.89L532.00 36.00L532.00 36.00L532.30 36.76L532.60 38.83L532.90 41.92L533.20 45.74L533.50 50.00L533.50 50.00L533.80 56.48L534.10 66.19L534.40 77.66L534.70 89.42L535.00 100.00L535.00 100.00L535.30 110.02L535.60 120.68L535.90 131.32L536.20 141.32L536.50 150.04L536.80 156.84L537.00 160.00L537.10 161.25L537.40 164.86L537.70 168.16L538.00 171.02L538.30 173.34L538.60 175.01L538.90 175.90L539.00 176.00L539.20 176.10L539.50 176.25L539.80 176.38L540.10 176.50L540.40 176.60L540.70 176.69L541.00 176.77L541.30 176.84L541.60 176.89L541.90 176.93L542.20 176.97L542.50 176.99L542.80 177.00L543.00 177.00L543.10 176.99L543.40 176.82L543.70 176.47L544.00 175.97L544.30 175.34L544.60 174.61L544.90 173.82L545.20 172.97L545.50 172.11L545.80 171.26L546.10 170.44L546.40 169.69L546.70 169.03L547.00 168.48L547.30 168.08L547.60 167.85L547.80 167.80L547.90 167.82L548.20 168.11L548.50 168.68L548.80 169.48L549.10 170.44L549.40 171.49L549.70 172.57L550.00 173.62L550.30 174.56L550.60 175.34L550.90 175.88L551.00 176.00L551.20 176.20L551.50 176.50L551.80 176.78L552.10 177.05L552.40 177.31L552.70 177.56L553.00 177.79L553.30 178.00L553.60 178.20L553.90 178.38L554.20 178.54L554.50 178.67L554.80 178.79L555.10 178.88L555.40 178.95L555.70 178.99L556.00 179.00L556.00 179.00L556.30 178.95L556.60 178.82L556.90 178.61L557.20 178.35L557.50 178.05L557.80 177.72L558.10 177.39L558.40 177.06L558.70 176.74L559.00 176.47L559.30 176.24L559.60 176.08L559.90 176.01L560.00 176.00L560.20 176.06L560.50 176.31L560.80 176.70L561.10 177.15L561.40 177.57L561.70 177.88L562.00 178.00L562.00 178.00L562.30 178.00L562.60 178.00L562.90 178.00L563.20 178.00L563.50 178.00L563.80 178.00L564.00 178.00L564.10 177.99L564.40 177.84L564.70 177.52L565.00 177.05L565.30 176.42L565.60 175.66L565.90 174.78L566.20 173.78L566.50 172.67L566.80 171.48L567.10 170.20L567.40 168.86L567.70 167.45L568.00 166.00L568.00 166.00L568.30 164.21L568.60 161.86L568.90 159.02L569.20 155.80L569.50 152.28L569.80 148.55L570.00 146.00L570.10 144.65L570.40 139.94L570.70 134.48L571.00 128.59L571.30 122.59L571.60 116.82L571.90 111.57L572.00 110.00L572.20 107.18L572.50 103.54L572.80 100.12L573.10 96.39L573.40 91.81L573.50 90.00L573.70 85.06L574.00 75.00L574.30 64.94L574.50 60.00L574.60 58.11L574.90 52.64L575.20 47.73L575.50 43.72L575.80 40.97L576.00 40.00L576.10 39.72L576.40 38.94L576.70 38.27L577.00 37.73L577.30 37.31L577.60 37.04L577.90 36.91L578.00 36.90L578.20 37.07L578.50 37.93L578.80 39.44L579.10 41.51L579.40 44.06L579.50 45.00L579.70 49.07L580.00 61.45L580.30 77.88L580.60 94.44L580.90 107.24L581.00 110.00L581.20 114.27L581.50 119.70L581.80 124.25L582.10 128.24L582.40 131.98L582.70 135.80L583.00 140.00L583.00 140.00L583.30 144.93L583.60 150.42L583.90 156.01L584.20 161.25L584.50 165.67L584.80 168.83L585.00 170.00L585.10 170.37L585.40 171.38L585.70 172.29L586.00 173.08L586.30 173.78L586.60 174.37L586.90 174.88L587.20 175.29L587.50 175.62L587.80 175.87L588.00 176.00L588.10 176.06L588.40 176.22L588.70 176.37L589.00 176.52L589.30 176.66L589.60 176.79L589.90 176.92L590.20 177.04L590.50 177.16L590.80 177.26L591.10 177.36L591.40 177.46L591.70 177.54L592.00 177.62L592.30 177.69L592.60 177.76L592.90 177.81L593.20 177.86L593.50 177.90L593.80 177.94L594.10 177.97L594.40 177.98L594.70 178.00L595.00 178.00L595.00 178.00L595.30 177.99L595.60 177.97L595.90 177.92L596.20 177.86L596.50 177.79L596.80 177.70L597.10 177.59L597.40 177.47L597.70 177.33L598.00 177.18L598.30 177.02L598.60 176.84L598.90 176.65L599.20 176.45L599.50 176.23L599.80 176.00L600.10 175.77L600.40 175.51L600.70 175.25L601.00 174.98L601.30 174.70L601.60 174.40L601.90 174.10L602.00 174.00L602.20 173.72L602.50 173.06L602.80 172.15L603.10 171.03L603.40 169.74L603.70 168.32L604.00 166.83L604.30 165.29L604.60 163.76L604.90 162.28L605.20 160.89L605.50 159.64L605.80 158.56L606.10 157.70L606.40 157.11L606.70 156.82L606.80 156.80L607.00 156.87L607.30 157.21L607.60 157.81L607.90 158.62L608.20 159.60L608.50 160.72L608.80 161.94L609.10 163.21L609.40 164.49L609.70 165.75L610.00 166.96L610.30 168.05L610.60 169.01L610.90 169.79L611.00 170.00L611.20 170.39L611.50 170.97L611.80 171.53L612.10 172.06L612.40 172.56L612.70 173.02L613.00 173.44L613.30 173.82L613.60 174.15L613.90 174.42L614.00 174.50L614.20 174.65L614.50 174.87L614.80 175.09L615.10 175.29L615.40 175.47L615.70 175.64L616.00 175.78L616.30 175.89L616.60 175.96L616.90 176.00L617.00 176.00L617.20 175.99L617.50 175.92L617.80 175.81L618.10 175.65L618.40 175.46L618.70 175.23L619.00 174.98L619.30 174.70L619.60 174.41L619.90 174.10L620.00 174.00L620.20 173.77L620.50 173.34L620.80 172.82L621.10 172.21L621.40 171.54L621.70 170.79L622.00 170.00L622.00 170.00L622.30 169.13L622.60 168.17L622.90 167.11L623.20 165.95L623.50 164.69L623.80 163.32L624.10 161.85L624.40 160.27L624.70 158.59L625.00 156.80L625.30 154.89L625.60 152.87L625.90 150.74L626.00 150.00L626.20 148.37L626.50 145.42L626.80 141.95L627.10 138.07L627.40 133.86L627.70 129.43L628.00 124.87L628.30 120.29L628.60 115.76L628.90 111.40L629.00 110.00L629.20 107.32L629.50 103.49L629.80 99.56L630.10 95.18L630.40 90.00L630.40 90.00L630.70 82.36L631.00 72.73L631.30 63.96L631.50 60.00L631.60 58.60L631.90 54.71L632.20 51.37L632.50 48.70L632.80 46.80L633.00 46.00L633.10 45.71L633.40 44.88L633.70 44.14L634.00 43.49L634.30 42.94L634.60 42.50L634.90 42.17L635.20 41.97L635.50 41.90L635.50 41.90L635.80 42.05L636.10 42.48L636.40 43.16L636.70 44.07L637.00 45.18L637.30 46.47L637.60 47.90L637.90 49.46L638.00 50.00L638.20 51.45L638.50 54.82L638.80 59.25L639.10 64.37L639.40 69.80L639.70 75.14L640.00 80.00L640.00 80.00L640.30 84.68L640.60 89.58L640.90 94.53L641.20 99.33L641.50 103.80L641.80 107.75L642.00 110.00L642.10 111.02L642.40 113.93L642.70 116.62L643.00 119.12L643.30 121.46L643.60 123.66L643.90 125.76L644.20 127.79L644.50 129.76L644.80 131.73L645.10 133.70L645.40 135.72L645.70 137.81L646.00 140.00L646.00 140.00L646.30 142.34L646.60 144.83L646.90 147.43L647.20 150.09L647.50 152.78L647.80 155.43L648.10 158.02L648.40 160.50L648.70 162.82L649.00 164.94L649.30 166.82L649.60 168.41L649.90 169.66L650.00 170.00L650.20 170.63L650.50 171.54L650.80 172.42L651.10 173.26L651.40 174.05L651.70 174.78L652.00 175.46L652.30 176.07L652.60 176.61L652.90 177.07L653.20 177.45L653.50 177.74L653.80 177.93L654.00 178.00L654.10 178.02L654.40 178.09L654.70 178.15L655.00 178.21L655.30 178.26L655.60 178.31L655.90 178.35L656.20 178.39L656.50 178.42L656.80 178.45L657.10 178.47L657.40 178.49L657.70 178.50L658.00 178.50L658.00 178.50L658.30 178.49L658.60 178.47L658.90 178.43L659.20 178.37L659.50 178.30L659.80 178.21L660.10 178.11L660.40 178.00L660.70 177.87L661.00 177.73L661.30 177.57L661.60 177.41L661.90 177.23L662.20 177.04L662.50 176.84L662.80 176.63L663.10 176.40L663.40 176.17L663.70 175.93L664.00 175.68L664.30 175.42L664.60 175.15L664.90 174.87L665.20 174.59L665.50 174.30L665.80 174.00L665.80 174.00L666.10 173.65L666.40 173.20L666.70 172.67L667.00 172.05L667.30 171.36L667.60 170.60L667.90 169.78L668.20 168.91L668.50 167.98L668.80 167.02L669.10 166.02L669.40 164.99L669.70 163.94L670.00 162.87L670.30 161.79L670.60 160.72L670.80 160.00L670.90 159.63L671.20 158.40L671.50 157.02L671.80 155.54L672.10 153.98L672.40 152.41L672.70 150.85L673.00 149.36L673.30 147.97L673.60 146.73L673.80 146.00L673.90 145.66L674.20 144.65L674.50 143.66L674.80 142.69L675.10 141.78L675.40 140.91L675.70 140.12L676.00 139.41L676.30 138.79L676.60 138.28L676.80 138.00L676.90 137.88L677.20 137.51L677.50 137.15L677.80 136.83L678.10 136.54L678.40 136.30L678.70 136.13L679.00 136.02L679.20 136.00L679.30 136.00" fill="none" stroke="#b77cf0" stroke-width="1.2" stroke-linejoin="round" stroke-linecap="butt" clip-path="url(#cb)" stroke-dasharray="7.5 3.2"/>
<path d="M431.30 180.70L431.60 180.70L431.90 180.70L432.20 180.70L432.50 180.70L432.80 180.70L433.10 180.70L433.40 180.70L433.70 180.70L434.00 180.70L434.30 180.70L434.30 180.70L434.60 179.02L434.90 174.44L435.20 167.62L435.50 159.25L435.80 150.00L435.80 150.00L436.10 134.29L436.40 112.41L436.70 93.83L436.80 90.00L437.00 84.08L437.30 76.25L437.60 71.12L437.80 70.00L437.90 70.14L438.20 72.02L438.50 75.68L438.80 80.58L439.10 86.17L439.30 90.00L439.40 92.16L439.70 101.15L440.00 112.47L440.30 124.27L440.60 134.71L440.80 140.00L440.90 142.18L441.20 148.53L441.50 154.45L441.80 159.82L442.10 164.50L442.40 168.36L442.70 171.27L442.80 172.00L443.00 173.33L443.30 175.21L443.60 176.92L443.90 178.37L444.20 179.50L444.50 180.23L444.80 180.50L444.80 180.50L445.10 180.51L445.40 180.53L445.70 180.54L446.00 180.55L446.30 180.56L446.60 180.57L446.90 180.59L447.20 180.60L447.50 180.60L447.80 180.61L448.10 180.62L448.40 180.63L448.70 180.64L449.00 180.64L449.30 180.65L449.60 180.65L449.90 180.66L450.20 180.67L450.50 180.67L450.80 180.67L451.10 180.68L451.40 180.68L451.70 180.68L452.00 180.69L452.30 180.69L452.60 180.69L452.90 180.69L453.20 180.69L453.50 180.70L453.80 180.70L454.10 180.70L454.40 180.70L454.70 180.70L455.00 180.70L455.30 180.70L455.50 180.70L455.60 180.58L455.90 178.90L456.20 175.46L456.50 170.57L456.80 164.52L457.00 160.00L457.10 156.78L457.40 139.35L457.70 117.36L458.00 100.00L458.00 100.00L458.30 87.64L458.60 76.72L458.90 70.48L459.00 70.00L459.20 70.58L459.50 73.28L459.80 77.59L460.10 82.80L460.40 88.25L460.50 90.00L460.70 93.83L461.00 100.80L461.30 108.79L461.60 117.24L461.90 125.62L462.20 133.39L462.50 140.00L462.50 140.00L462.80 145.95L463.10 151.92L463.40 157.64L463.70 162.83L464.00 167.21L464.30 170.52L464.50 172.00L464.60 172.57L464.90 174.20L465.20 175.71L465.50 177.05L465.80 178.22L466.10 179.17L466.40 179.88L466.70 180.34L467.00 180.50L467.00 180.50L467.30 180.51L467.60 180.52L467.90 180.53L468.20 180.53L468.50 180.54L468.80 180.55L469.10 180.56L469.40 180.56L469.70 180.57L470.00 180.58L470.30 180.58L470.60 180.59L470.90 180.59L471.20 180.60L471.50 180.61L471.80 180.61L472.10 180.62L472.40 180.62L472.70 180.63L473.00 180.63L473.30 180.64L473.60 180.64L473.90 180.64L474.20 180.65L474.50 180.65L474.80 180.65L475.10 180.66L475.40 180.66L475.70 180.66L476.00 180.67L476.30 180.67L476.60 180.67L476.90 180.67L477.20 180.68L477.50 180.68L477.80 180.68L478.10 180.68L478.40 180.68L478.70 180.69L479.00 180.69L479.30 180.69L479.60 180.69L479.90 180.69L480.20 180.69L480.50 180.69L480.80 180.69L481.10 180.70L481.40 180.70L481.70 180.70L482.00 180.70L482.30 180.70L482.60 180.70L482.90 180.70L483.20 180.70L483.50 180.70L483.80 180.70L484.10 180.70L484.40 180.70L484.70 180.70L485.00 180.70L485.00 180.70L485.30 180.52L485.60 180.01L485.90 179.17L486.20 178.02L486.50 176.59L486.80 174.90L487.10 172.95L487.40 170.77L487.50 170.00L487.70 167.29L488.00 159.88L488.30 150.21L488.60 140.27L488.90 132.03L489.00 130.00L489.20 126.34L489.50 120.79L489.80 115.56L490.10 111.08L490.40 107.79L490.70 106.12L490.80 106.00L491.00 106.41L491.30 108.38L491.60 111.63L491.90 115.75L492.20 120.34L492.50 125.00L492.50 125.00L492.80 130.98L493.10 138.85L493.40 147.24L493.70 154.75L494.00 160.00L494.00 160.00L494.30 163.51L494.60 166.71L494.90 169.54L495.20 171.95L495.50 173.90L495.80 175.34L496.00 176.00L496.10 176.26L496.40 177.01L496.70 177.71L497.00 178.34L497.30 178.90L497.60 179.39L497.90 179.80L498.20 180.12L498.50 180.34L498.80 180.47L499.00 180.50L499.10 180.50L499.40 180.51L499.70 180.51L500.00 180.52L500.30 180.53L500.60 180.53L500.90 180.54L501.20 180.54L501.50 180.55L501.80 180.55L502.10 180.56L502.40 180.56L502.70 180.57L503.00 180.57L503.30 180.58L503.60 180.58L503.90 180.59L504.20 180.59L504.50 180.59L504.80 180.60L505.10 180.60L505.40 180.61L505.70 180.61L506.00 180.61L506.30 180.62L506.60 180.62L506.90 180.62L507.20 180.63L507.50 180.63L507.80 180.63L508.10 180.64L508.40 180.64L508.70 180.64L509.00 180.64L509.30 180.65L509.60 180.65L509.90 180.65L510.20 180.65L510.50 180.66L510.80 180.66L511.10 180.66L511.40 180.66L511.70 180.67L512.00 180.67L512.30 180.67L512.60 180.67L512.90 180.67L513.20 180.67L513.50 180.68L513.80 180.68L514.10 180.68L514.40 180.68L514.70 180.68L515.00 180.68L515.30 180.68L515.60 180.69L515.90 180.69L516.20 180.69L516.50 180.69L516.80 180.69L517.10 180.69L517.40 180.69L517.70 180.69L518.00 180.69L518.30 180.69L518.60 180.69L518.90 180.69L519.20 180.70L519.50 180.70L519.80 180.70L520.10 180.70L520.40 180.70L520.70 180.70L521.00 180.70L521.30 180.70L521.60 180.70L521.90 180.70L522.20 180.70L522.50 180.70L522.80 180.70L523.10 180.70L523.40 180.70L523.70 180.70L524.00 180.70L524.30 180.70L524.60 180.70L524.90 180.70L525.00 180.70L525.20 180.65L525.50 180.40L525.80 179.93L526.10 179.25L526.40 178.35L526.70 177.24L527.00 175.92L527.30 174.39L527.60 172.65L527.90 170.70L528.00 170.00L528.20 167.43L528.50 159.92L528.80 149.25L529.10 136.84L529.40 124.09L529.50 120.00L529.70 110.97L530.00 94.79L530.30 77.61L530.60 61.86L530.90 50.00L530.90 50.00L531.20 40.72L531.50 36.00L531.50 36.00L531.80 36.00L532.10 36.00L532.40 36.00L532.70 36.00L533.00 36.00L533.30 36.00L533.60 36.00L533.90 36.00L534.00 36.00L534.20 37.40L534.50 43.71L534.80 53.12L535.00 60.00L535.10 64.06L535.40 81.86L535.70 102.78L536.00 120.00L536.00 120.00L536.30 133.22L536.60 145.94L536.90 157.04L537.20 165.43L537.50 170.00L537.50 170.00L537.80 172.17L538.10 174.09L538.40 175.75L538.70 177.15L539.00 178.28L539.30 179.13L539.60 179.70L539.90 179.97L540.00 180.00L540.20 180.02L540.50 180.05L540.80 180.07L541.10 180.10L541.40 180.13L541.70 180.15L542.00 180.17L542.30 180.19L542.60 180.21L542.90 180.23L543.20 180.25L543.50 180.27L543.80 180.29L544.10 180.31L544.40 180.32L544.70 180.34L545.00 180.35L545.30 180.36L545.60 180.38L545.90 180.39L546.20 180.40L546.50 180.41L546.80 180.42L547.10 180.43L547.40 180.44L547.70 180.44L548.00 180.45L548.30 180.46L548.60 180.46L548.90 180.47L549.20 180.47L549.50 180.48L549.80 180.48L550.10 180.49L550.40 180.49L550.70 180.49L551.00 180.49L551.30 180.50L551.60 180.50L551.90 180.50L552.20 180.50L552.50 180.50L552.80 180.50L553.00 180.50L553.10 180.49L553.40 180.37L553.70 180.13L554.00 179.80L554.30 179.42L554.60 179.02L554.90 178.62L555.20 178.27L555.50 178.00L555.80 177.83L556.00 177.80L556.10 177.80L556.40 177.86L556.70 177.98L557.00 178.14L557.30 178.35L557.60 178.57L557.90 178.82L558.20 179.06L558.50 179.30L558.80 179.52L559.10 179.72L559.40 179.87L559.70 179.96L560.00 180.00L560.00 180.00L560.30 180.00L560.60 180.00L560.90 180.00L561.20 179.99L561.50 179.99L561.80 179.99L562.10 179.98L562.40 179.98L562.70 179.97L563.00 179.96L563.30 179.96L563.60 179.95L563.90 179.94L564.20 179.93L564.50 179.91L564.80 179.90L565.10 179.89L565.40 179.87L565.70 179.85L566.00 179.84L566.30 179.82L566.60 179.80L566.90 179.78L567.20 179.75L567.50 179.73L567.80 179.70L568.10 179.68L568.40 179.65L568.70 179.62L569.00 179.59L569.30 179.55L569.60 179.52L569.90 179.48L570.20 179.45L570.50 179.41L570.80 179.37L571.10 179.32L571.40 179.28L571.70 179.23L572.00 179.19L572.30 179.14L572.60 179.08L572.90 179.03L573.20 178.98L573.50 178.92L573.60 178.90L573.80 178.82L574.10 178.56L574.40 178.13L574.70 177.55L575.00 176.83L575.30 175.99L575.60 175.03L575.90 173.96L576.20 172.80L576.50 171.56L576.70 170.70L576.80 170.25L577.10 168.70L577.40 166.75L577.70 164.26L578.00 161.08L578.30 157.08L578.60 152.10L578.70 150.20L578.90 142.41L579.20 121.58L579.50 100.00L579.50 100.00L579.80 79.54L580.10 58.78L580.40 44.29L580.50 42.00L580.70 39.20L581.00 36.09L581.30 34.90L581.30 34.90L581.60 34.90L581.90 34.90L582.20 34.90L582.50 34.90L582.80 34.90L583.10 34.90L583.40 34.90L583.70 34.90L584.00 34.90L584.30 34.90L584.60 34.90L584.90 34.90L585.20 34.90L585.30 34.90L585.50 35.88L585.80 40.40L586.10 47.37L586.20 50.00L586.40 58.56L586.70 79.00L587.00 100.00L587.00 100.00L587.30 120.35L587.60 140.26L587.90 152.30L587.90 152.30L588.20 157.18L588.50 160.80L588.80 163.53L589.10 165.69L589.30 167.00L589.40 167.64L589.70 169.47L590.00 171.13L590.30 172.57L590.60 173.74L590.90 174.60L591.00 174.80L591.20 175.16L591.50 175.68L591.80 176.18L592.10 176.64L592.40 177.08L592.70 177.48L593.00 177.86L593.30 178.21L593.60 178.53L593.90 178.81L594.20 179.07L594.50 179.29L594.80 179.48L595.10 179.63L595.40 179.75L595.70 179.84L596.00 179.89L596.10 179.90L596.30 179.91L596.60 179.94L596.90 179.96L597.20 179.98L597.50 180.00L597.80 180.01L598.10 180.03L598.40 180.05L598.70 180.07L599.00 180.08L599.30 180.10L599.60 180.11L599.90 180.13L600.20 180.14L600.50 180.15L600.80 180.17L601.10 180.18L601.40 180.19L601.70 180.20L602.00 180.21L602.30 180.22L602.60 180.23L602.90 180.24L603.20 180.24L603.50 180.25L603.80 180.26L604.10 180.26L604.40 180.27L604.70 180.27L605.00 180.28L605.30 180.28L605.60 180.29L605.90 180.29L606.20 180.29L606.50 180.29L606.80 180.30L607.10 180.30L607.40 180.30L607.70 180.30L608.00 180.30L608.00 180.30L608.30 180.27L608.60 180.17L608.90 180.02L609.20 179.83L609.50 179.60L609.80 179.34L610.10 179.07L610.40 178.79L610.70 178.51L611.00 178.23L611.30 177.98L611.60 177.75L611.90 177.56L612.00 177.50L612.20 177.39L612.50 177.22L612.80 177.05L613.10 176.88L613.40 176.71L613.70 176.54L614.00 176.39L614.30 176.24L614.60 176.11L614.90 176.00L615.20 175.91L615.50 175.84L615.80 175.81L616.00 175.80L616.10 175.80L616.40 175.84L616.70 175.91L617.00 176.01L617.30 176.15L617.60 176.31L617.90 176.49L618.20 176.69L618.50 176.90L618.80 177.13L619.10 177.35L619.40 177.58L619.70 177.81L620.00 178.02L620.30 178.23L620.60 178.42L620.90 178.60L621.20 178.75L621.50 178.87L621.80 178.96L622.00 179.00L622.10 179.02L622.40 179.07L622.70 179.11L623.00 179.16L623.30 179.20L623.60 179.25L623.90 179.29L624.20 179.33L624.50 179.37L624.80 179.41L625.10 179.45L625.40 179.49L625.70 179.52L626.00 179.56L626.30 179.59L626.60 179.62L626.90 179.65L627.20 179.68L627.50 179.70L627.80 179.73L628.10 179.75L628.40 179.77L628.70 179.79L629.00 179.81L629.30 179.83L629.60 179.84L629.90 179.86L630.20 179.87L630.50 179.88L630.80 179.89L631.10 179.89L631.40 179.90L631.70 179.90L631.90 179.90L632.00 179.88L632.30 179.63L632.60 179.12L632.90 178.37L633.20 177.43L633.50 176.33L633.80 175.11L634.10 173.80L634.40 172.45L634.50 172.00L634.70 170.99L635.00 169.11L635.30 166.85L635.60 164.26L635.90 161.40L636.00 160.40L636.20 158.42L636.50 155.36L636.80 151.66L637.10 146.74L637.40 140.00L637.40 140.00L637.70 123.16L638.00 100.00L638.00 100.00L638.30 75.45L638.60 58.00L638.60 58.00L638.90 52.48L639.20 48.82L639.50 47.50L639.50 47.50L639.80 47.50L640.10 47.50L640.40 47.50L640.70 47.50L641.00 47.50L641.30 47.50L641.60 47.50L641.90 47.50L642.20 47.50L642.50 47.50L642.80 47.50L643.10 47.50L643.40 47.50L643.70 47.50L644.00 47.50L644.00 47.50L644.30 48.37L644.60 50.70L644.90 54.05L645.20 58.00L645.20 58.00L645.50 64.61L645.80 74.77L646.10 86.30L646.40 97.00L646.50 100.00L646.70 105.75L647.00 114.64L647.30 123.36L647.60 131.35L647.90 138.07L648.20 142.97L648.30 144.10L648.50 145.98L648.80 148.42L649.10 150.49L649.40 152.25L649.70 153.77L650.00 155.13L650.30 156.40L650.30 156.40L650.60 157.62L650.90 158.78L651.20 159.87L651.50 160.91L651.80 161.89L652.10 162.82L652.40 163.70L652.70 164.54L653.00 165.34L653.30 166.10L653.60 166.82L653.90 167.51L654.20 168.17L654.40 168.60L654.50 168.81L654.80 169.43L655.10 170.04L655.40 170.63L655.70 171.21L656.00 171.77L656.30 172.31L656.60 172.83L656.90 173.34L657.20 173.82L657.50 174.29L657.80 174.73L658.10 175.15L658.40 175.55L658.70 175.92L659.00 176.27L659.30 176.60L659.50 176.80L659.60 176.90L659.90 177.20L660.20 177.49L660.50 177.79L660.80 178.09L661.10 178.37L661.40 178.65L661.70 178.92L662.00 179.17L662.30 179.41L662.60 179.63L662.90 179.83L663.20 180.00L663.50 180.14L663.80 180.26L664.10 180.34L664.40 180.39L664.60 180.40L664.70 180.40L665.00 180.41L665.30 180.41L665.60 180.42L665.90 180.42L666.20 180.42L666.50 180.43L666.80 180.43L667.10 180.44L667.40 180.44L667.70 180.44L668.00 180.45L668.30 180.45L668.60 180.45L668.90 180.46L669.20 180.46L669.50 180.46L669.80 180.46L670.10 180.47L670.40 180.47L670.70 180.47L671.00 180.47L671.30 180.48L671.60 180.48L671.90 180.48L672.20 180.48L672.50 180.48L672.80 180.48L673.10 180.49L673.40 180.49L673.70 180.49L674.00 180.49L674.30 180.49L674.60 180.49L674.90 180.49L675.20 180.49L675.50 180.50L675.80 180.50L676.10 180.50L676.40 180.50L676.70 180.50L677.00 180.50L677.30 180.50L677.60 180.50L677.90 180.50L678.20 180.50L678.50 180.50L678.80 180.50L679.10 180.50L679.20 180.50" fill="none" stroke="#5a8fe0" stroke-width="1.2" stroke-linejoin="round" stroke-linecap="butt" clip-path="url(#cb)" stroke-dasharray="1.5 3.7"/>
<path d="M431.30 180.70L431.60 180.70L431.90 180.70L432.20 180.70L432.50 180.70L432.80 180.70L433.10 180.70L433.40 180.70L433.70 180.70L434.00 180.70L434.30 180.70L434.60 180.70L434.90 180.70L435.20 180.70L435.50 180.70L435.80 180.70L435.90 180.70L436.10 176.30L436.40 157.84L436.70 133.98L436.90 120.00L437.00 113.49L437.30 90.57L437.60 69.89L437.90 60.90L437.90 60.90L438.20 62.75L438.50 67.61L438.80 74.46L439.10 82.26L439.40 90.00L439.40 90.00L439.70 98.66L440.00 109.15L440.30 120.31L440.60 130.98L440.90 140.00L440.90 140.00L441.20 147.89L441.50 155.57L441.80 162.51L442.10 168.17L442.40 172.00L442.40 172.00L442.70 174.66L443.00 177.03L443.30 178.95L443.60 180.23L443.90 180.70L443.90 180.70L444.20 180.70L444.50 180.70L444.80 180.70L445.10 180.70L445.40 180.70L445.70 180.70L446.00 180.70L446.30 180.70L446.60 180.70L446.90 180.70L447.20 180.70L447.50 180.70L447.80 180.70L448.10 180.70L448.40 180.70L448.70 180.70L449.00 180.70L449.30 180.70L449.60 180.70L449.90 180.70L450.20 180.70L450.50 180.70L450.80 180.70L451.10 180.70L451.40 180.70L451.70 180.70L452.00 180.70L452.30 180.70L452.60 180.70L452.90 180.70L453.20 180.70L453.50 180.70L453.80 180.70L454.10 180.70L454.40 180.70L454.70 180.70L455.00 180.70L455.30 180.70L455.60 180.70L455.90 180.70L456.20 180.70L456.50 180.70L456.80 180.70L456.90 180.70L457.10 180.01L457.40 176.66L457.70 171.09L458.00 163.90L458.30 155.71L458.50 150.00L458.60 146.42L458.90 129.04L459.20 106.88L459.50 86.57L459.80 74.72L459.90 73.80L460.10 74.84L460.40 79.65L460.70 87.16L461.00 96.00L461.30 104.81L461.50 110.00L461.60 112.43L461.90 120.33L462.20 128.77L462.50 137.27L462.80 145.36L463.10 152.57L463.40 158.43L463.50 160.00L463.70 162.95L464.00 167.35L464.30 171.50L464.60 175.16L464.90 178.07L465.20 180.00L465.50 180.70L465.50 180.70L465.80 180.70L466.10 180.70L466.40 180.70L466.70 180.70L467.00 180.70L467.30 180.70L467.60 180.70L467.90 180.70L468.20 180.70L468.50 180.70L468.80 180.70L469.10 180.70L469.40 180.70L469.70 180.70L470.00 180.70L470.30 180.70L470.60 180.70L470.90 180.70L471.20 180.70L471.50 180.70L471.80 180.70L472.10 180.70L472.40 180.70L472.70 180.70L473.00 180.70L473.30 180.70L473.60 180.70L473.90 180.70L474.20 180.70L474.50 180.70L474.80 180.70L475.10 180.70L475.40 180.70L475.70 180.70L476.00 180.70L476.30 180.70L476.60 180.70L476.90 180.70L477.20 180.70L477.50 180.70L477.80 180.70L478.10 180.70L478.40 180.70L478.70 180.70L479.00 180.70L479.30 180.70L479.60 180.70L479.90 180.70L480.20 180.70L480.50 180.70L480.80 180.70L481.10 180.70L481.40 180.70L481.70 180.70L482.00 180.70L482.30 180.70L482.60 180.70L482.90 180.70L483.20 180.70L483.50 180.70L483.80 180.70L484.10 180.70L484.40 180.70L484.70 180.70L485.00 180.70L485.30 180.70L485.60 180.70L485.90 180.70L486.20 180.70L486.50 180.70L486.80 180.70L487.10 180.70L487.40 180.70L487.70 180.70L488.00 180.70L488.30 180.70L488.30 180.70L488.60 179.67L488.90 176.92L489.20 172.93L489.50 168.20L489.80 163.22L490.00 160.00L490.10 158.25L490.40 151.19L490.70 142.84L491.00 135.00L491.30 129.49L491.50 128.00L491.60 127.81L491.90 127.33L492.20 127.01L492.50 126.90L492.50 126.90L492.80 127.34L493.10 128.56L493.40 130.40L493.70 132.71L494.00 135.34L494.30 138.13L494.50 140.00L494.60 141.04L494.90 145.27L495.20 150.68L495.50 156.61L495.80 162.44L496.10 167.52L496.40 171.19L496.50 172.00L496.70 173.35L497.00 175.28L497.30 177.03L497.60 178.52L497.90 179.68L498.20 180.43L498.50 180.70L498.50 180.70L498.80 180.70L499.10 180.70L499.40 180.70L499.70 180.70L500.00 180.70L500.30 180.70L500.60 180.70L500.90 180.70L501.20 180.70L501.50 180.70L501.80 180.70L502.10 180.70L502.40 180.70L502.70 180.70L503.00 180.70L503.30 180.70L503.60 180.70L503.90 180.70L504.20 180.70L504.50 180.70L504.80 180.70L505.10 180.70L505.40 180.70L505.70 180.70L506.00 180.70L506.30 180.70L506.60 180.70L506.90 180.70L507.20 180.70L507.50 180.70L507.80 180.70L508.10 180.70L508.40 180.70L508.70 180.70L509.00 180.70L509.30 180.70L509.60 180.70L509.90 180.70L510.20 180.70L510.50 180.70L510.80 180.70L511.10 180.70L511.40 180.70L511.70 180.70L512.00 180.70L512.30 180.70L512.60 180.70L512.90 180.70L513.20 180.70L513.50 180.70L513.80 180.70L514.10 180.70L514.40 180.70L514.70 180.70L515.00 180.70L515.30 180.70L515.60 180.70L515.90 180.70L516.20 180.70L516.50 180.70L516.80 180.70L517.10 180.70L517.40 180.70L517.70 180.70L518.00 180.70L518.30 180.70L518.60 180.70L518.90 180.70L519.20 180.70L519.50 180.70L519.80 180.70L520.10 180.70L520.40 180.70L520.70 180.70L521.00 180.70L521.30 180.70L521.60 180.70L521.90 180.70L522.20 180.70L522.50 180.70L522.80 180.70L523.10 180.70L523.40 180.70L523.70 180.70L524.00 180.70L524.30 180.70L524.60 180.70L524.90 180.70L525.20 180.70L525.50 180.70L525.80 180.70L526.10 180.70L526.40 180.70L526.70 180.70L527.00 180.70L527.30 180.70L527.60 180.70L527.90 180.70L528.20 180.70L528.50 180.70L528.80 180.70L529.00 180.70L529.10 180.68L529.40 180.34L529.70 179.55L530.00 178.28L530.30 176.48L530.60 174.11L530.90 171.14L531.00 170.00L531.20 151.10L531.50 88.10L531.80 36.13L531.90 31.50L532.10 31.51L532.40 31.54L532.70 31.59L533.00 31.68L533.30 31.79L533.60 31.93L533.90 32.10L534.20 32.30L534.50 32.54L534.80 32.80L535.00 33.00L535.10 33.18L535.40 34.61L535.70 37.00L536.00 39.96L536.30 43.06L536.50 45.00L536.60 45.84L536.90 47.70L537.20 49.51L537.50 52.42L537.80 57.58L537.90 60.00L538.10 149.99L538.20 180.70L538.40 180.70L538.70 180.70L539.00 180.70L539.30 180.70L539.60 180.70L539.90 180.70L540.20 180.70L540.50 180.70L540.80 180.70L541.10 180.70L541.40 180.70L541.70 180.70L542.00 180.70L542.30 180.69L542.60 180.69L542.90 180.69L543.20 180.69L543.50 180.69L543.80 180.69L544.10 180.69L544.40 180.69L544.70 180.69L545.00 180.68L545.30 180.68L545.60 180.68L545.90 180.68L546.20 180.68L546.50 180.67L546.80 180.67L547.10 180.67L547.40 180.67L547.70 180.66L548.00 180.66L548.30 180.66L548.60 180.66L548.90 180.65L549.20 180.65L549.50 180.65L549.80 180.64L550.10 180.64L550.40 180.64L550.70 180.63L551.00 180.63L551.30 180.63L551.60 180.62L551.90 180.62L552.20 180.61L552.50 180.61L552.80 180.60L553.00 180.60L553.10 180.60L553.40 180.56L553.70 180.49L554.00 180.39L554.30 180.27L554.60 180.12L554.90 179.96L555.20 179.79L555.50 179.61L555.80 179.43L556.10 179.24L556.40 179.06L556.70 178.89L557.00 178.74L557.30 178.60L557.30 178.60L557.60 178.46L557.90 178.30L558.20 178.14L558.50 178.00L558.80 177.89L559.10 177.81L559.30 177.80L559.40 177.80L559.70 177.86L560.00 177.98L560.30 178.15L560.60 178.34L560.90 178.55L561.20 178.76L561.50 178.95L561.80 179.11L562.00 179.20L562.10 179.24L562.40 179.35L562.70 179.47L563.00 179.59L563.30 179.70L563.60 179.82L563.90 179.93L564.20 180.03L564.50 180.13L564.80 180.23L565.10 180.31L565.40 180.39L565.70 180.46L566.00 180.51L566.30 180.56L566.60 180.59L566.90 180.60L567.00 180.60L567.20 180.60L567.50 180.60L567.80 180.60L568.10 180.60L568.40 180.60L568.70 180.60L569.00 180.60L569.30 180.60L569.60 180.60L569.90 180.60L570.20 180.60L570.50 180.60L570.80 180.60L571.10 180.60L571.40 180.60L571.70 180.60L572.00 180.60L572.30 180.60L572.60 180.60L572.90 180.60L573.20 180.60L573.50 180.60L573.80 180.60L574.10 180.60L574.40 180.60L574.70 180.60L575.00 180.60L575.30 180.60L575.60 180.60L575.90 180.60L576.20 180.60L576.50 180.60L576.80 180.60L577.10 180.60L577.40 180.60L577.70 180.60L578.00 180.60L578.00 180.60L578.30 180.57L578.60 180.49L578.90 180.33L579.20 180.10L579.50 179.78L579.80 179.37L580.10 178.86L580.40 178.23L580.50 178.00L580.70 175.65L581.00 165.85L581.30 150.00L581.30 150.00L581.60 88.42L581.90 36.00L581.90 36.00L582.20 36.45L582.50 37.58L582.80 39.03L583.00 40.00L583.10 40.53L583.40 42.75L583.70 45.42L584.00 47.92L584.30 49.62L584.50 50.00L584.60 49.79L584.90 47.18L585.20 42.75L585.50 38.07L585.80 34.68L586.00 33.90L586.10 33.91L586.40 34.09L586.70 34.53L587.00 35.28L587.30 36.41L587.60 37.96L587.90 40.00L587.90 40.00L588.20 71.34L588.40 100.00L588.50 111.92L588.80 148.46L589.00 160.40L589.10 161.65L589.40 164.76L589.70 167.06L590.00 168.73L590.30 169.94L590.60 170.88L590.90 171.71L591.00 172.00L591.20 172.57L591.50 173.37L591.80 174.10L592.10 174.77L592.40 175.37L592.70 175.92L593.00 176.41L593.30 176.85L593.60 177.24L593.90 177.59L594.10 177.80L594.20 177.90L594.50 178.20L594.80 178.49L595.10 178.77L595.40 179.04L595.70 179.30L596.00 179.54L596.30 179.76L596.60 179.96L596.90 180.13L597.20 180.27L597.50 180.38L597.80 180.46L598.10 180.50L598.20 180.50L598.40 180.50L598.70 180.51L599.00 180.51L599.30 180.52L599.60 180.52L599.90 180.52L600.20 180.53L600.50 180.53L600.80 180.53L601.10 180.54L601.40 180.54L601.70 180.54L602.00 180.55L602.30 180.55L602.60 180.55L602.90 180.56L603.20 180.56L603.50 180.56L603.80 180.56L604.10 180.57L604.40 180.57L604.70 180.57L605.00 180.57L605.30 180.57L605.60 180.58L605.90 180.58L606.20 180.58L606.50 180.58L606.80 180.58L607.10 180.58L607.40 180.59L607.70 180.59L608.00 180.59L608.30 180.59L608.60 180.59L608.90 180.59L609.20 180.59L609.50 180.59L609.80 180.59L610.10 180.60L610.40 180.60L610.70 180.60L611.00 180.60L611.30 180.60L611.60 180.60L611.90 180.60L612.20 180.60L612.50 180.60L612.80 180.60L613.10 180.60L613.40 180.60L613.70 180.60L614.00 180.60L614.30 180.60L614.50 180.60L614.60 180.59L614.90 180.51L615.20 180.33L615.50 180.09L615.80 179.81L616.10 179.50L616.40 179.19L616.60 179.00L616.70 178.90L617.00 178.55L617.30 178.14L617.60 177.67L617.90 177.17L618.20 176.65L618.50 176.13L618.80 175.62L619.10 175.14L619.40 174.70L619.70 174.32L620.00 174.02L620.30 173.81L620.60 173.71L620.70 173.70L620.90 173.71L621.20 173.75L621.50 173.83L621.80 173.94L622.10 174.07L622.40 174.22L622.70 174.40L623.00 174.59L623.30 174.79L623.60 175.00L623.90 175.22L624.20 175.44L624.50 175.65L624.80 175.86L625.00 176.00L625.10 176.07L625.40 176.30L625.70 176.56L626.00 176.84L626.30 177.14L626.60 177.45L626.90 177.77L627.20 178.08L627.50 178.38L627.80 178.67L628.10 178.93L628.40 179.16L628.70 179.35L629.00 179.50L629.00 179.50L629.30 179.63L629.60 179.75L629.90 179.87L630.20 179.98L630.50 180.09L630.80 180.20L631.10 180.29L631.40 180.37L631.70 180.45L632.00 180.51L632.30 180.55L632.60 180.58L632.90 180.60L633.00 180.60L633.20 180.60L633.50 180.60L633.80 180.60L634.10 180.60L634.40 180.60L634.70 180.60L635.00 180.60L635.30 180.60L635.60 180.60L635.90 180.60L636.20 180.60L636.50 180.60L636.80 180.60L637.10 180.60L637.40 180.60L637.70 180.60L638.00 180.60L638.00 180.60L638.30 180.39L638.60 179.75L638.90 178.65L639.20 177.08L639.50 175.00L639.50 175.00L639.80 166.72L640.10 150.00L640.10 150.00L640.40 103.15L640.70 51.83L640.80 46.90L641.00 46.92L641.30 47.03L641.60 47.26L641.90 47.60L642.20 48.06L642.50 48.66L642.80 49.41L643.00 50.00L643.10 51.29L643.40 64.16L643.70 83.44L644.00 100.00L644.00 100.00L644.30 111.52L644.60 121.97L644.90 131.65L645.20 140.89L645.50 150.00L645.50 150.00L645.80 159.93L646.10 168.33L646.20 170.00L646.40 172.43L646.70 175.46L647.00 177.37L647.20 177.80L647.30 177.82L647.60 177.87L647.90 177.91L648.20 177.94L648.50 177.97L648.80 177.98L649.10 178.00L649.40 178.00L649.50 178.00L649.70 176.57L650.00 171.61L650.10 170.00L650.30 166.17L650.60 162.00L650.60 162.00L650.90 161.82L651.20 161.69L651.50 161.60L651.80 161.54L652.10 161.51L652.40 161.50L652.40 161.50L652.70 161.58L653.00 161.81L653.30 162.16L653.60 162.60L653.90 163.10L654.20 163.64L654.50 164.18L654.80 164.69L655.00 165.00L655.10 165.15L655.40 165.62L655.70 166.10L656.00 166.61L656.30 167.12L656.60 167.65L656.90 168.19L657.20 168.73L657.50 169.27L657.80 169.81L658.10 170.34L658.40 170.87L658.70 171.39L659.00 171.90L659.30 172.39L659.50 172.70L659.60 172.86L659.90 173.32L660.20 173.79L660.50 174.26L660.80 174.71L661.10 175.16L661.40 175.59L661.70 176.01L662.00 176.40L662.30 176.77L662.50 177.00L662.60 177.11L662.90 177.45L663.20 177.79L663.50 178.12L663.80 178.45L664.10 178.76L664.40 179.04L664.70 179.30L665.00 179.53L665.30 179.72L665.60 179.86L665.70 179.90L665.90 179.97L666.20 180.07L666.50 180.16L666.80 180.25L667.10 180.33L667.40 180.40L667.70 180.47L668.00 180.52L668.30 180.56L668.60 180.59L668.90 180.60L669.00 180.60L669.20 180.60L669.50 180.60L669.80 180.60L670.10 180.60L670.40 180.60L670.70 180.60L671.00 180.60L671.30 180.60L671.60 180.60L671.90 180.60L672.20 180.60L672.50 180.60L672.80 180.60L673.10 180.60L673.40 180.60L673.70 180.60L674.00 180.60L674.30 180.60L674.60 180.60L674.90 180.60L675.20 180.60L675.50 180.60L675.80 180.60L676.10 180.60L676.40 180.60L676.70 180.60L677.00 180.60L677.30 180.60L677.60 180.60L677.90 180.60L678.20 180.60L678.50 180.60L678.80 180.60L679.10 180.60L679.20 180.60" fill="none" stroke="#f2602a" stroke-width="1.25" stroke-linejoin="round" stroke-linecap="butt" clip-path="url(#cb)" stroke-dasharray="7 2.3 2.2 2.8"/>
<path d="M431.30 410.70L540.50 410.70L540.70 410.68L540.90 410.64L541.10 410.57L541.30 410.48L541.50 410.38L541.70 410.26L541.80 410.20L541.90 410.13L542.10 409.94L542.30 409.69L542.50 409.39L542.70 409.02L542.90 408.60L543.10 408.13L543.30 407.62L543.50 407.05L543.70 406.45L543.90 405.80L543.90 405.80L544.10 404.99L544.30 403.92L544.50 402.63L544.70 401.14L544.90 399.48L545.10 397.70L545.30 395.82L545.50 393.87L545.70 391.88L545.90 389.90L545.90 389.90L546.10 387.82L546.30 385.56L546.50 383.14L546.70 380.58L546.90 377.92L547.10 375.17L547.30 372.37L547.50 369.54L547.70 366.71L547.90 363.90L547.90 363.90L548.10 361.17L548.30 358.51L548.50 355.85L548.70 353.11L548.90 350.23L549.10 347.13L549.30 343.75L549.50 340.00L549.50 340.00L549.70 335.24L549.90 329.22L550.10 322.52L550.30 315.69L550.50 309.28L550.70 303.87L550.90 300.00L550.90 300.00L551.10 297.09L551.30 294.35L551.50 292.06L551.70 290.49L551.90 289.90L551.90 289.90L552.10 290.00L552.30 290.28L552.50 290.66L552.70 291.09L552.90 291.50L552.90 291.50L553.10 291.91L553.30 292.35L553.50 292.84L553.70 293.35L553.90 293.90L553.90 293.90L562.90 260.30L679.20 260.30" fill="none" stroke="#4fb562" stroke-width="1.2" stroke-linejoin="round" stroke-linecap="butt" clip-path="url(#cd)"/>
<path d="M431.30 410.70L549.80 410.70L550.80 402.00L551.60 320.00L552.20 290.00L552.80 330.00L553.80 395.00L555.00 405.50L557.50 406.50L559.80 398.00L560.80 340.00L561.40 270.00L562.30 261.00L563.50 260.30L679.20 260.30" fill="none" stroke="#b77cf0" stroke-width="1.2" stroke-linejoin="round" stroke-linecap="butt" clip-path="url(#cd)" stroke-dasharray="7.5 3.2"/>
<path d="M431.30 410.70L550.30 410.70L551.00 402.00L551.70 300.00L552.10 288.00L552.60 300.00L553.40 404.00L554.00 410.50L559.70 410.50L560.50 402.00L561.20 264.00L561.90 260.30L679.20 260.30" fill="none" stroke="#5a8fe0" stroke-width="1.2" stroke-linejoin="round" stroke-linecap="butt" clip-path="url(#cd)" stroke-dasharray="1.5 3.7"/>
<path d="M431.30 410.70L550.60 410.70L551.40 404.00L552.00 300.00L552.40 286.30L552.80 300.00L553.30 406.00L553.70 410.70L560.10 410.70L560.80 405.00L561.30 262.00L561.80 260.30L679.20 260.30" fill="none" stroke="#f2602a" stroke-width="1.3" stroke-linejoin="round" stroke-linecap="butt" clip-path="url(#cd)" stroke-dasharray="7 2.3 2.2 2.8"/>
<rect x="100.0" y="11.75" width="246.80" height="187.55" fill="none" stroke="#262626" stroke-width="1.05"/>
<rect x="431.6" y="11.75" width="246.85" height="187.55" fill="none" stroke="#262626" stroke-width="1.05"/>
<rect x="100.0" y="241.5" width="246.80" height="187.80" fill="none" stroke="#262626" stroke-width="1.05"/>
<rect x="431.6" y="241.5" width="246.85" height="187.80" fill="none" stroke="#262626" stroke-width="1.05"/>
<path d="M223.40 199.3v-5.5M223.40 11.75v5.5M161.70 199.3v-3.5M161.70 11.75v3.5M285.10 199.3v-3.5M285.10 11.75v3.5M100.0 196.00h5.5M346.8 196.00h-5.5M100.0 103.88h3.5M346.8 103.88h-3.5" fill="none" stroke="#222" stroke-width="1"/>
<path d="M555.03 199.3v-5.5M555.03 11.75v5.5M493.31 199.3v-3.5M493.31 11.75v3.5M616.74 199.3v-3.5M616.74 11.75v3.5M431.6 180.50h5.5M678.45 180.50h-5.5M431.6 105.50h5.5M678.45 105.50h-5.5M431.6 30.50h5.5M678.45 30.50h-5.5M431.6 143.00h3.5M678.45 143.00h-3.5M431.6 68.00h3.5M678.45 68.00h-3.5" fill="none" stroke="#222" stroke-width="1"/>
<path d="M161.70 429.3v-5.5M161.70 241.5v5.5M223.40 429.3v-5.5M223.40 241.5v5.5M285.10 429.3v-5.5M285.10 241.5v5.5M130.85 429.3v-3.5M130.85 241.5v3.5M192.55 429.3v-3.5M192.55 241.5v3.5M254.25 429.3v-3.5M254.25 241.5v3.5M315.95 429.3v-3.5M315.95 241.5v3.5M100.0 420.40h5.5M346.8 420.40h-5.5M100.0 330.95h3.5M346.8 330.95h-3.5" fill="none" stroke="#222" stroke-width="1"/>
<path d="M493.31 429.3v-5.5M493.31 241.5v5.5M555.03 429.3v-5.5M555.03 241.5v5.5M616.74 429.3v-5.5M616.74 241.5v5.5M462.46 429.3v-3.5M462.46 241.5v3.5M524.17 429.3v-3.5M524.17 241.5v3.5M585.88 429.3v-3.5M585.88 241.5v3.5M647.59 429.3v-3.5M647.59 241.5v3.5M431.6 410.40h5.5M678.45 410.40h-5.5M431.6 335.40h5.5M678.45 335.40h-5.5M431.6 260.40h5.5M678.45 260.40h-5.5M431.6 372.90h3.5M678.45 372.90h-3.5M431.6 297.90h3.5M678.45 297.90h-3.5" fill="none" stroke="#222" stroke-width="1"/>
<text transform="translate(0.30 28.30) scale(1 1)" text-anchor="start" style='font-family:"Liberation Sans", sans-serif;font-size:29.5px;' >(a)</text>
<text transform="translate(359.60 29.30) scale(1 1)" text-anchor="start" style='font-family:"Liberation Sans", sans-serif;font-size:29.5px;' >(b)</text>
<text transform="translate(0.30 263.30) scale(1 1)" text-anchor="start" style='font-family:"Liberation Sans", sans-serif;font-size:29.5px;' >(c)</text>
<text transform="translate(359.60 264.50) scale(1 1)" text-anchor="start" style='font-family:"Liberation Sans", sans-serif;font-size:29.5px;' >(d)</text>
<text transform="translate(92.80 21.10) scale(1.02 1.09)" text-anchor="end" style='font-family:"Liberation Serif", serif;font-size:28px;' >0.05</text>
<text transform="translate(93.00 205.50) scale(1.02 1.09)" text-anchor="end" style='font-family:"Liberation Serif", serif;font-size:28px;' >0</text>
<text transform="translate(100.00 227.60) scale(1.02 1.09)" text-anchor="middle" style='font-family:"Liberation Serif", serif;font-size:28px;' >0</text>
<text transform="translate(223.40 227.60) scale(1.02 1.09)" text-anchor="middle" style='font-family:"Liberation Serif", serif;font-size:28px;' >1</text>
<text transform="translate(346.80 227.60) scale(1.02 1.09)" text-anchor="middle" style='font-family:"Liberation Serif", serif;font-size:28px;' >2</text>
<text transform="translate(431.60 227.60) scale(1.02 1.09)" text-anchor="middle" style='font-family:"Liberation Serif", serif;font-size:28px;' >0</text>
<text transform="translate(555.03 227.60) scale(1.02 1.09)" text-anchor="middle" style='font-family:"Liberation Serif", serif;font-size:28px;' >1</text>
<text transform="translate(678.45 227.60) scale(1.02 1.09)" text-anchor="middle" style='font-family:"Liberation Serif", serif;font-size:28px;' >2</text>
<text transform="translate(424.50 40.10) scale(1.02 1.09)" text-anchor="end" style='font-family:"Liberation Serif", serif;font-size:28px;' >1</text>
<text transform="translate(424.50 115.10) scale(1.02 1.09)" text-anchor="end" style='font-family:"Liberation Serif", serif;font-size:28px;' >0</text>
<text transform="translate(424.50 190.10) scale(1.02 1.09)" text-anchor="end" style='font-family:"Liberation Serif", serif;font-size:28px;' >−1</text>
<text transform="translate(92.60 250.90) scale(1.02 1.09)" text-anchor="end" style='font-family:"Liberation Serif", serif;font-size:28px;' >0.2</text>
<text transform="translate(93.00 430.10) scale(1.02 1.09)" text-anchor="end" style='font-family:"Liberation Serif", serif;font-size:28px;' >0</text>
<text transform="translate(98.80 458.00) scale(1.02 1.09)" text-anchor="middle" style='font-family:"Liberation Serif", serif;font-size:28px;' >−2</text>
<text transform="translate(430.40 458.00) scale(1.02 1.09)" text-anchor="middle" style='font-family:"Liberation Serif", serif;font-size:28px;' >−2</text>
<text transform="translate(160.50 458.00) scale(1.02 1.09)" text-anchor="middle" style='font-family:"Liberation Serif", serif;font-size:28px;' >−1</text>
<text transform="translate(492.11 458.00) scale(1.02 1.09)" text-anchor="middle" style='font-family:"Liberation Serif", serif;font-size:28px;' >−1</text>
<text transform="translate(223.40 458.00) scale(1.02 1.09)" text-anchor="middle" style='font-family:"Liberation Serif", serif;font-size:28px;' >0</text>
<text transform="translate(555.03 458.00) scale(1.02 1.09)" text-anchor="middle" style='font-family:"Liberation Serif", serif;font-size:28px;' >0</text>
<text transform="translate(285.10 458.00) scale(1.02 1.09)" text-anchor="middle" style='font-family:"Liberation Serif", serif;font-size:28px;' >1</text>
<text transform="translate(616.74 458.00) scale(1.02 1.09)" text-anchor="middle" style='font-family:"Liberation Serif", serif;font-size:28px;' >1</text>
<text transform="translate(346.80 458.00) scale(1.02 1.09)" text-anchor="middle" style='font-family:"Liberation Serif", serif;font-size:28px;' >2</text>
<text transform="translate(678.45 458.00) scale(1.02 1.09)" text-anchor="middle" style='font-family:"Liberation Serif", serif;font-size:28px;' >2</text>
<text transform="translate(424.50 270.00) scale(1.02 1.09)" text-anchor="end" style='font-family:"Liberation Serif", serif;font-size:28px;' >1</text>
<text transform="translate(424.50 345.00) scale(1.02 1.09)" text-anchor="end" style='font-family:"Liberation Serif", serif;font-size:28px;' >0</text>
<text transform="translate(424.50 420.00) scale(1.02 1.09)" text-anchor="end" style='font-family:"Liberation Serif", serif;font-size:28px;' >−1</text>
<text transform="translate(24.7 106) rotate(-90) scale(0.975 1.04)" text-anchor="middle" style='font-family:"Liberation Serif", serif;font-size:30px;font-style:italic'>G / G<tspan dy="7" style="font-size:21px;font-style:normal">0</tspan></text>
<text transform="translate(24.7 335.7) rotate(-90) scale(0.975 1.04)" text-anchor="middle" style='font-family:"Liberation Serif", serif;font-size:30px;font-style:italic'>G / G<tspan dy="7" style="font-size:21px;font-style:normal">0</tspan></text>
<text transform="translate(387 109.5) rotate(-90) scale(0.975 1.04)" text-anchor="middle" style='font-family:"Liberation Serif", serif;font-size:30px;font-style:italic'>P</text>
<text transform="translate(387 339.5) rotate(-90) scale(0.975 1.04)" text-anchor="middle" style='font-family:"Liberation Serif", serif;font-size:30px;font-style:italic'>P</text>
<text x="224.6" y="488.2" text-anchor="middle" style='font-family:"Liberation Serif", serif;font-size:29.5px;font-style:italic'>U<tspan dy="7" style="font-size:22px">g</tspan><tspan dy="-7"> / t</tspan></text>
<text x="555.6" y="488.2" text-anchor="middle" style='font-family:"Liberation Serif", serif;font-size:29.5px;font-style:italic'>U<tspan dy="7" style="font-size:22px">g</tspan><tspan dy="-7"> / t</tspan></text>
<path d="M112.6 27.9H159.8" stroke="#3f77ec" stroke-width="2.1" fill="none"/>
<path d="M112.6 57.7H159.8" stroke="#ea3035" stroke-width="2.1" fill="none"/>
<text x="165" y="35.2" style='font-family:"Liberation Serif", serif;font-size:20.5px;font-style:italic;fill:#3f77ec'>G</text>
<text x="165" y="64.9" style='font-family:"Liberation Serif", serif;font-size:20.5px;font-style:italic;fill:#ea3035'>G</text>
<path d="M182.5 40.4V33.5" stroke="#3f77ec" stroke-width="2.1" fill="none"/><path d="M179.8 34.8L182.5 30.4L185.2 34.8Z" fill="#3f77ec"/>
<path d="M182.5 60.3V67" stroke="#ea3035" stroke-width="2.1" fill="none"/><path d="M179.8 65.8L182.5 70.2L185.2 65.8Z" fill="#ea3035"/>
<rect x="449.2" y="184.3" width="96.6" height="89.8" fill="#000"/>
<rect x="446.7" y="182.1" width="96.4" height="89.4" fill="#fff" stroke="#d8d8d8" stroke-width="0.8"/>
<path d="M448 193.1H489.7" stroke="#4fb562" stroke-width="1.1" fill="none"/>
<text x="494.3" y="199.1" style='font-family:"Liberation Serif", serif;font-size:17.5px'><tspan style="font-style:italic">V</tspan> = 0</text>
<path d="M448 216.0H489.7" stroke="#b77cf0" stroke-width="1.1" fill="none" stroke-dasharray="8 3.2"/>
<text x="494.3" y="222.0" style='font-family:"Liberation Serif", serif;font-size:17.5px'><tspan style="font-style:italic">V</tspan> = 2</text>
<path d="M448 238.6H489.7" stroke="#5a8fe0" stroke-width="1.1" fill="none" stroke-dasharray="1.5 3.8"/>
<text x="494.3" y="244.6" style='font-family:"Liberation Serif", serif;font-size:17.5px'><tspan style="font-style:italic">V</tspan> = 5</text>
<path d="M448 260.5H489.7" stroke="#f2602a" stroke-width="1.1" fill="none" stroke-dasharray="6.8 1.6 1.3 1.6"/>
<text x="494.3" y="266.5" style='font-family:"Liberation Serif", serif;font-size:17.5px'><tspan style="font-style:italic">V</tspan> = 10</text>
</svg>
</body></html>
